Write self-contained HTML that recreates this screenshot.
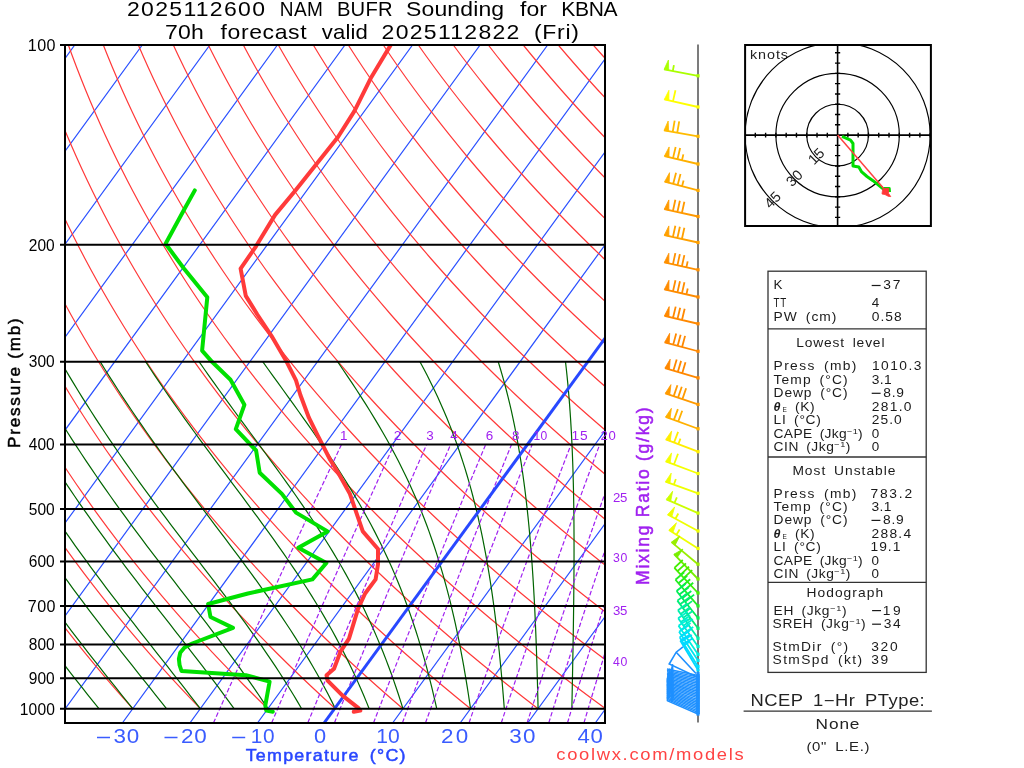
<!DOCTYPE html>
<html><head><meta charset="utf-8"><style>
html,body{margin:0;padding:0;background:#fff;overflow:hidden;}
svg{position:absolute;left:0;top:0;will-change:transform;}
text{font-family:"Liberation Sans",sans-serif;}
</style></head><body>
<svg width="1024" height="768" viewBox="0 0 1024 768">
<rect width="1024" height="768" fill="#fff"/>
<defs><clipPath id="cf"><rect x="65" y="45" width="540" height="678"/></clipPath><clipPath id="ch"><rect x="745" y="45" width="186" height="181"/></clipPath></defs>
<g clip-path="url(#cf)">
<path d="M-688.22,722.76 L-195.49,45 M-620.66,722.76 L-127.93,45 M-553.1,722.76 L-60.37,45 M-485.54,722.76 L7.19,45 M-417.98,722.76 L74.75,45 M-350.42,722.76 L142.31,45 M-282.86,722.76 L209.87,45 M-215.3,722.76 L277.43,45 M-147.74,722.76 L344.99,45 M-80.18,722.76 L412.55,45 M-12.62,722.76 L480.11,45 M54.94,722.76 L547.67,45 M122.5,722.76 L615.23,45 M190.06,722.76 L682.79,45 M257.62,722.76 L750.35,45 M392.74,722.76 L885.47,45 M460.3,722.76 L953.03,45 M527.86,722.76 L1020.59,45 M595.42,722.76 L1088.15,45 M662.98,722.76 L1155.71,45" stroke="#2a50ff" stroke-width="1.2" fill="none"/>
<path d="M-340.2,708.7 L-344.99,697.45 L-349.64,686.2 L-354.15,674.95 L-358.51,663.7 L-362.74,652.45 L-366.83,641.2 L-370.78,629.95 L-374.6,618.7 L-378.29,607.46 L-381.84,596.21 L-385.26,584.96 L-388.56,573.71 L-391.73,562.46 L-394.77,551.21 L-397.69,539.96 L-400.48,528.71 L-403.16,517.46 L-405.71,506.21 L-408.15,494.96 L-410.46,483.72 L-412.66,472.47 L-414.75,461.22 L-416.72,449.97 L-418.58,438.72 L-420.32,427.47 L-421.96,416.22 L-423.49,404.97 L-424.91,393.72 L-426.22,382.47 L-427.43,371.22 L-428.54,359.97 L-429.54,348.73 L-430.44,337.48 L-431.24,326.23 L-431.94,314.98 L-432.54,303.73 L-433.05,292.48 L-433.46,281.23 L-433.77,269.98 L-433.99,258.73 L-434.11,247.48 L-434.15,236.23 L-434.09,224.99 L-433.94,213.74 L-433.7,202.49 L-433.38,191.24 L-432.97,179.99 L-432.47,168.74 L-431.89,157.49 L-431.22,146.24 L-430.47,134.99 L-429.64,123.74 L-428.72,112.49 L-427.73,101.25 L-426.65,90 L-425.5,78.75 L-424.27,67.5 L-422.96,56.25 L-421.58,45 M-272.64,708.7 L-278.18,697.45 L-283.57,686.2 L-288.81,674.95 L-293.9,663.7 L-298.84,652.45 L-303.64,641.2 L-308.29,629.95 L-312.81,618.7 L-317.18,607.46 L-321.41,596.21 L-325.5,584.96 L-329.46,573.71 L-333.28,562.46 L-336.98,551.21 L-340.53,539.96 L-343.96,528.71 L-347.26,517.46 L-350.44,506.21 L-353.48,494.96 L-356.41,483.72 L-359.21,472.47 L-361.88,461.22 L-364.44,449.97 L-366.88,438.72 L-369.2,427.47 L-371.4,416.22 L-373.49,404.97 L-375.47,393.72 L-377.33,382.47 L-379.08,371.22 L-380.72,359.97 L-382.25,348.73 L-383.68,337.48 L-385,326.23 L-386.21,314.98 L-387.32,303.73 L-388.33,292.48 L-389.23,281.23 L-390.03,269.98 L-390.74,258.73 L-391.34,247.48 L-391.85,236.23 L-392.26,224.99 L-392.58,213.74 L-392.8,202.49 L-392.93,191.24 L-392.96,179.99 L-392.91,168.74 L-392.77,157.49 L-392.53,146.24 L-392.21,134.99 L-391.8,123.74 L-391.31,112.49 L-390.73,101.25 L-390.06,90 L-389.32,78.75 L-388.49,67.5 L-387.57,56.25 L-386.58,45 M-205.08,708.7 L-211.37,697.45 L-217.5,686.2 L-223.47,674.95 L-229.29,663.7 L-234.95,652.45 L-240.45,641.2 L-245.81,629.95 L-251.01,618.7 L-256.07,607.46 L-260.98,596.21 L-265.74,584.96 L-270.36,573.71 L-274.84,562.46 L-279.18,551.21 L-283.38,539.96 L-287.44,528.71 L-291.37,517.46 L-295.16,506.21 L-298.82,494.96 L-302.35,483.72 L-305.75,472.47 L-309.02,461.22 L-312.16,449.97 L-315.18,438.72 L-318.07,427.47 L-320.85,416.22 L-323.49,404.97 L-326.02,393.72 L-328.44,382.47 L-330.73,371.22 L-332.91,359.97 L-334.97,348.73 L-336.92,337.48 L-338.75,326.23 L-340.48,314.98 L-342.1,303.73 L-343.6,292.48 L-345,281.23 L-346.3,269.98 L-347.49,258.73 L-348.57,247.48 L-349.55,236.23 L-350.43,224.99 L-351.21,213.74 L-351.89,202.49 L-352.48,191.24 L-352.96,179.99 L-353.35,168.74 L-353.64,157.49 L-353.84,146.24 L-353.95,134.99 L-353.97,123.74 L-353.89,112.49 L-353.73,101.25 L-353.47,90 L-353.13,78.75 L-352.7,67.5 L-352.19,56.25 L-351.59,45 M-137.52,708.7 L-144.56,697.45 L-151.43,686.2 L-158.13,674.95 L-164.67,663.7 L-171.05,652.45 L-177.26,641.2 L-183.32,629.95 L-189.22,618.7 L-194.96,607.46 L-200.55,596.21 L-205.98,584.96 L-211.26,573.71 L-216.4,562.46 L-221.38,551.21 L-226.22,539.96 L-230.92,528.71 L-235.47,517.46 L-239.89,506.21 L-244.16,494.96 L-248.29,483.72 L-252.29,472.47 L-256.16,461.22 L-259.89,449.97 L-263.48,438.72 L-266.95,427.47 L-270.29,416.22 L-273.5,404.97 L-276.58,393.72 L-279.54,382.47 L-282.38,371.22 L-285.09,359.97 L-287.68,348.73 L-290.16,337.48 L-292.51,326.23 L-294.75,314.98 L-296.87,303.73 L-298.88,292.48 L-300.78,281.23 L-302.56,269.98 L-304.23,258.73 L-305.8,247.48 L-307.25,236.23 L-308.6,224.99 L-309.85,213.74 L-310.99,202.49 L-312.02,191.24 L-312.96,179.99 L-313.79,168.74 L-314.52,157.49 L-315.16,146.24 L-315.69,134.99 L-316.13,123.74 L-316.48,112.49 L-316.73,101.25 L-316.88,90 L-316.95,78.75 L-316.92,67.5 L-316.8,56.25 L-316.59,45 M-69.96,708.7 L-77.75,697.45 L-85.36,686.2 L-92.8,674.95 L-100.06,663.7 L-107.15,652.45 L-114.08,641.2 L-120.83,629.95 L-127.42,618.7 L-133.85,607.46 L-140.11,596.21 L-146.22,584.96 L-152.16,573.71 L-157.95,562.46 L-163.59,551.21 L-169.07,539.96 L-174.4,528.71 L-179.58,517.46 L-184.61,506.21 L-189.5,494.96 L-194.24,483.72 L-198.84,472.47 L-203.29,461.22 L-207.61,449.97 L-211.78,438.72 L-215.83,427.47 L-219.73,416.22 L-223.5,404.97 L-227.14,393.72 L-230.65,382.47 L-234.02,371.22 L-237.27,359.97 L-240.4,348.73 L-243.39,337.48 L-246.27,326.23 L-249.02,314.98 L-251.65,303.73 L-254.16,292.48 L-256.55,281.23 L-258.82,269.98 L-260.98,258.73 L-263.03,247.48 L-264.96,236.23 L-266.78,224.99 L-268.48,213.74 L-270.08,202.49 L-271.57,191.24 L-272.95,179.99 L-274.23,168.74 L-275.4,157.49 L-276.47,146.24 L-277.44,134.99 L-278.3,123.74 L-279.06,112.49 L-279.73,101.25 L-280.29,90 L-280.76,78.75 L-281.14,67.5 L-281.42,56.25 L-281.6,45 M-2.4,708.7 L-10.94,697.45 L-19.29,686.2 L-27.46,674.95 L-35.45,663.7 L-43.26,652.45 L-50.89,641.2 L-58.34,629.95 L-65.63,618.7 L-72.74,607.46 L-79.68,596.21 L-86.46,584.96 L-93.06,573.71 L-99.51,562.46 L-105.79,551.21 L-111.91,539.96 L-117.88,528.71 L-123.69,517.46 L-129.34,506.21 L-134.84,494.96 L-140.18,483.72 L-145.38,472.47 L-150.43,461.22 L-155.33,449.97 L-160.09,438.72 L-164.7,427.47 L-169.17,416.22 L-173.5,404.97 L-177.7,393.72 L-181.75,382.47 L-185.67,371.22 L-189.46,359.97 L-193.11,348.73 L-196.63,337.48 L-200.02,326.23 L-203.29,314.98 L-206.43,303.73 L-209.44,292.48 L-212.32,281.23 L-215.09,269.98 L-217.73,258.73 L-220.26,247.48 L-222.66,236.23 L-224.95,224.99 L-227.12,213.74 L-229.18,202.49 L-231.12,191.24 L-232.95,179.99 L-234.67,168.74 L-236.28,157.49 L-237.78,146.24 L-239.18,134.99 L-240.46,123.74 L-241.65,112.49 L-242.73,101.25 L-243.7,90 L-244.58,78.75 L-245.35,67.5 L-246.03,56.25 L-246.61,45 M65.16,708.7 L55.87,697.45 L46.78,686.2 L37.88,674.95 L29.17,663.7 L20.64,652.45 L12.3,641.2 L4.14,629.95 L-3.83,618.7 L-11.63,607.46 L-19.25,596.21 L-26.69,584.96 L-33.97,573.71 L-41.07,562.46 L-48,551.21 L-54.76,539.96 L-61.36,528.71 L-67.79,517.46 L-74.06,506.21 L-80.17,494.96 L-86.13,483.72 L-91.92,472.47 L-97.56,461.22 L-103.05,449.97 L-108.39,438.72 L-113.58,427.47 L-118.61,416.22 L-123.51,404.97 L-128.25,393.72 L-132.86,382.47 L-137.32,371.22 L-141.64,359.97 L-145.82,348.73 L-149.87,337.48 L-153.78,326.23 L-157.56,314.98 L-161.2,303.73 L-164.71,292.48 L-168.1,281.23 L-171.35,269.98 L-174.48,258.73 L-177.48,247.48 L-180.36,236.23 L-183.12,224.99 L-185.76,213.74 L-188.27,202.49 L-190.67,191.24 L-192.95,179.99 L-195.11,168.74 L-197.16,157.49 L-199.09,146.24 L-200.92,134.99 L-202.63,123.74 L-204.23,112.49 L-205.73,101.25 L-207.11,90 L-208.4,78.75 L-209.57,67.5 L-210.64,56.25 L-211.61,45 M132.72,708.7 L122.69,697.45 L112.85,686.2 L103.22,674.95 L93.78,663.7 L84.54,652.45 L75.49,641.2 L66.63,629.95 L57.96,618.7 L49.48,607.46 L41.18,596.21 L33.07,584.96 L25.13,573.71 L17.38,562.46 L9.8,551.21 L2.4,539.96 L-4.84,528.71 L-11.9,517.46 L-18.79,506.21 L-25.51,494.96 L-32.07,483.72 L-38.47,472.47 L-44.7,461.22 L-50.77,449.97 L-56.69,438.72 L-62.45,427.47 L-68.06,416.22 L-73.51,404.97 L-78.81,393.72 L-83.96,382.47 L-88.97,371.22 L-93.82,359.97 L-98.54,348.73 L-103.11,337.48 L-107.54,326.23 L-111.83,314.98 L-115.98,303.73 L-119.99,292.48 L-123.87,281.23 L-127.62,269.98 L-131.23,258.73 L-134.71,247.48 L-138.07,236.23 L-141.29,224.99 L-144.39,213.74 L-147.36,202.49 L-150.22,191.24 L-152.94,179.99 L-155.55,168.74 L-158.04,157.49 L-160.41,146.24 L-162.66,134.99 L-164.8,123.74 L-166.82,112.49 L-168.73,101.25 L-170.52,90 L-172.21,78.75 L-173.79,67.5 L-175.26,56.25 L-176.62,45 M200.28,708.7 L189.5,697.45 L178.92,686.2 L168.55,674.95 L158.39,663.7 L148.43,652.45 L138.68,641.2 L129.12,629.95 L119.76,618.7 L110.59,607.46 L101.61,596.21 L92.83,584.96 L84.23,573.71 L75.82,562.46 L67.6,551.21 L59.55,539.96 L51.69,528.71 L44,517.46 L36.49,506.21 L29.15,494.96 L21.98,483.72 L14.99,472.47 L8.16,461.22 L1.5,449.97 L-4.99,438.72 L-11.33,427.47 L-17.5,416.22 L-23.51,404.97 L-29.37,393.72 L-35.07,382.47 L-40.61,371.22 L-46.01,359.97 L-51.25,348.73 L-56.35,337.48 L-61.29,326.23 L-66.1,314.98 L-70.75,303.73 L-75.27,292.48 L-79.65,281.23 L-83.88,269.98 L-87.98,258.73 L-91.94,247.48 L-95.77,236.23 L-99.46,224.99 L-103.03,213.74 L-106.46,202.49 L-109.76,191.24 L-112.94,179.99 L-115.99,168.74 L-118.92,157.49 L-121.72,146.24 L-124.4,134.99 L-126.96,123.74 L-129.4,112.49 L-131.73,101.25 L-133.94,90 L-136.03,78.75 L-138.01,67.5 L-139.87,56.25 L-141.63,45 M267.84,708.7 L256.31,697.45 L244.99,686.2 L233.89,674.95 L223.01,663.7 L212.33,652.45 L201.86,641.2 L191.61,629.95 L181.55,618.7 L171.7,607.46 L162.05,596.21 L152.59,584.96 L143.33,573.71 L134.27,562.46 L125.39,551.21 L116.71,539.96 L108.21,528.71 L99.89,517.46 L91.76,506.21 L83.81,494.96 L76.04,483.72 L68.45,472.47 L61.03,461.22 L53.78,449.97 L46.7,438.72 L39.8,427.47 L33.06,416.22 L26.49,404.97 L20.08,393.72 L13.83,382.47 L7.74,371.22 L1.81,359.97 L-3.97,348.73 L-9.58,337.48 L-15.05,326.23 L-20.37,314.98 L-25.53,303.73 L-30.55,292.48 L-35.42,281.23 L-40.15,269.98 L-44.73,258.73 L-49.17,247.48 L-53.47,236.23 L-57.64,224.99 L-61.66,213.74 L-65.55,202.49 L-69.31,191.24 L-72.94,179.99 L-76.43,168.74 L-79.8,157.49 L-83.03,146.24 L-86.14,134.99 L-89.13,123.74 L-91.99,112.49 L-94.73,101.25 L-97.35,90 L-99.84,78.75 L-102.22,67.5 L-104.49,56.25 L-106.63,45 M335.4,708.7 L323.12,697.45 L311.06,686.2 L299.23,674.95 L287.62,663.7 L276.23,652.45 L265.05,641.2 L254.09,629.95 L243.35,618.7 L232.81,607.46 L222.48,596.21 L212.35,584.96 L202.43,573.71 L192.71,562.46 L183.19,551.21 L173.86,539.96 L164.73,528.71 L155.79,517.46 L147.04,506.21 L138.47,494.96 L130.1,483.72 L121.9,472.47 L113.89,461.22 L106.06,449.97 L98.4,438.72 L90.92,427.47 L83.62,416.22 L76.48,404.97 L69.52,393.72 L62.72,382.47 L56.09,371.22 L49.62,359.97 L43.32,348.73 L37.18,337.48 L31.19,326.23 L25.36,314.98 L19.69,303.73 L14.17,292.48 L8.81,281.23 L3.59,269.98 L-1.48,258.73 L-6.4,247.48 L-11.18,236.23 L-15.81,224.99 L-20.3,213.74 L-24.65,202.49 L-28.86,191.24 L-32.93,179.99 L-36.87,168.74 L-40.67,157.49 L-44.34,146.24 L-47.88,134.99 L-51.29,123.74 L-54.57,112.49 L-57.73,101.25 L-60.76,90 L-63.66,78.75 L-66.44,67.5 L-69.1,56.25 L-71.64,45 M402.96,708.7 L389.93,697.45 L377.13,686.2 L364.57,674.95 L352.23,663.7 L340.12,652.45 L328.24,641.2 L316.58,629.95 L305.14,618.7 L293.92,607.46 L282.91,596.21 L272.11,584.96 L261.53,573.71 L251.15,562.46 L240.98,551.21 L231.02,539.96 L221.25,528.71 L211.68,517.46 L202.31,506.21 L193.14,494.96 L184.15,483.72 L175.36,472.47 L166.75,461.22 L158.34,449.97 L150.1,438.72 L142.05,427.47 L134.17,416.22 L126.48,404.97 L118.96,393.72 L111.62,382.47 L104.44,371.22 L97.44,359.97 L90.61,348.73 L83.94,337.48 L77.44,326.23 L71.1,314.98 L64.92,303.73 L58.9,292.48 L53.03,281.23 L47.33,269.98 L41.77,258.73 L36.37,247.48 L31.12,236.23 L26.02,224.99 L21.07,213.74 L16.26,202.49 L11.59,191.24 L7.07,179.99 L2.69,168.74 L-1.55,157.49 L-5.66,146.24 L-9.63,134.99 L-13.46,123.74 L-17.16,112.49 L-20.73,101.25 L-24.17,90 L-27.48,78.75 L-30.66,67.5 L-33.71,56.25 L-36.65,45 M470.52,708.7 L456.74,697.45 L443.2,686.2 L429.9,674.95 L416.84,663.7 L404.02,652.45 L391.43,641.2 L379.07,629.95 L366.93,618.7 L355.03,607.46 L343.34,596.21 L331.88,584.96 L320.63,573.71 L309.6,562.46 L298.78,551.21 L288.17,539.96 L277.77,528.71 L267.58,517.46 L257.59,506.21 L247.8,494.96 L238.21,483.72 L228.82,472.47 L219.62,461.22 L210.61,449.97 L201.8,438.72 L193.17,427.47 L184.73,416.22 L176.48,404.97 L168.4,393.72 L160.51,382.47 L152.8,371.22 L145.26,359.97 L137.89,348.73 L130.7,337.48 L123.68,326.23 L116.83,314.98 L110.14,303.73 L103.62,292.48 L97.26,281.23 L91.06,269.98 L85.02,258.73 L79.14,247.48 L73.42,236.23 L67.85,224.99 L62.43,213.74 L57.16,202.49 L52.04,191.24 L47.07,179.99 L42.25,168.74 L37.57,157.49 L33.03,146.24 L28.63,134.99 L24.38,123.74 L20.26,112.49 L16.27,101.25 L12.42,90 L8.71,78.75 L5.13,67.5 L1.67,56.25 L-1.65,45 M538.08,708.7 L523.55,697.45 L509.27,686.2 L495.24,674.95 L481.46,663.7 L467.92,652.45 L454.62,641.2 L441.56,629.95 L428.73,618.7 L416.14,607.46 L403.77,596.21 L391.64,584.96 L379.73,573.71 L368.04,562.46 L356.57,551.21 L345.33,539.96 L334.29,528.71 L323.47,517.46 L312.86,506.21 L302.46,494.96 L292.26,483.72 L282.27,472.47 L272.48,461.22 L262.89,449.97 L253.5,438.72 L244.3,427.47 L235.29,416.22 L226.47,404.97 L217.85,393.72 L209.41,382.47 L201.15,371.22 L193.07,359.97 L185.18,348.73 L177.46,337.48 L169.92,326.23 L162.56,314.98 L155.36,303.73 L148.34,292.48 L141.49,281.23 L134.8,269.98 L128.27,258.73 L121.91,247.48 L115.72,236.23 L109.68,224.99 L103.79,213.74 L98.07,202.49 L92.5,191.24 L87.08,179.99 L81.81,168.74 L76.69,157.49 L71.72,146.24 L66.89,134.99 L62.21,123.74 L57.67,112.49 L53.27,101.25 L49.01,90 L44.89,78.75 L40.91,67.5 L37.06,56.25 L33.34,45 M605.64,708.7 L590.36,697.45 L575.34,686.2 L560.58,674.95 L546.07,663.7 L531.81,652.45 L517.81,641.2 L504.04,629.95 L490.52,618.7 L477.25,607.46 L464.21,596.21 L451.4,584.96 L438.83,573.71 L426.49,562.46 L414.37,551.21 L402.48,539.96 L390.81,528.71 L379.37,517.46 L368.14,506.21 L357.12,494.96 L346.32,483.72 L335.73,472.47 L325.35,461.22 L315.17,449.97 L305.19,438.72 L295.42,427.47 L285.85,416.22 L276.47,404.97 L267.29,393.72 L258.3,382.47 L249.5,371.22 L240.89,359.97 L232.46,348.73 L224.22,337.48 L216.17,326.23 L208.29,314.98 L200.59,303.73 L193.06,292.48 L185.71,281.23 L178.53,269.98 L171.53,258.73 L164.69,247.48 L158.01,236.23 L151.5,224.99 L145.16,213.74 L138.97,202.49 L132.95,191.24 L127.08,179.99 L121.37,168.74 L115.81,157.49 L110.41,146.24 L105.15,134.99 L100.04,123.74 L95.09,112.49 L90.27,101.25 L85.6,90 L81.08,78.75 L76.69,67.5 L72.44,56.25 L68.34,45 M673.2,708.7 L657.17,697.45 L641.41,686.2 L625.92,674.95 L610.68,663.7 L595.71,652.45 L580.99,641.2 L566.53,629.95 L552.32,618.7 L538.36,607.46 L524.64,596.21 L511.16,584.96 L497.93,573.71 L484.93,562.46 L472.17,551.21 L459.64,539.96 L447.33,528.71 L435.26,517.46 L423.41,506.21 L411.78,494.96 L400.38,483.72 L389.18,472.47 L378.21,461.22 L367.45,449.97 L356.89,438.72 L346.55,427.47 L336.41,416.22 L326.47,404.97 L316.73,393.72 L307.19,382.47 L297.85,371.22 L288.71,359.97 L279.75,348.73 L270.99,337.48 L262.41,326.23 L254.02,314.98 L245.81,303.73 L237.78,292.48 L229.94,281.23 L222.27,269.98 L214.78,258.73 L207.46,247.48 L200.31,236.23 L193.33,224.99 L186.52,213.74 L179.88,202.49 L173.4,191.24 L167.08,179.99 L160.93,168.74 L154.93,157.49 L149.09,146.24 L143.41,134.99 L137.88,123.74 L132.5,112.49 L127.27,101.25 L122.19,90 L117.26,78.75 L112.47,67.5 L107.83,56.25 L103.33,45 M740.76,708.7 L723.98,697.45 L707.48,686.2 L691.25,674.95 L675.3,663.7 L659.61,652.45 L644.18,641.2 L629.02,629.95 L614.11,618.7 L599.46,607.46 L585.07,596.21 L570.92,584.96 L557.03,573.71 L543.37,562.46 L529.96,551.21 L516.79,539.96 L503.86,528.71 L491.15,517.46 L478.69,506.21 L466.45,494.96 L454.43,483.72 L442.64,472.47 L431.07,461.22 L419.72,449.97 L408.59,438.72 L397.67,427.47 L386.96,416.22 L376.47,404.97 L366.17,393.72 L356.09,382.47 L346.21,371.22 L336.52,359.97 L327.04,348.73 L317.75,337.48 L308.65,326.23 L299.75,314.98 L291.03,303.73 L282.51,292.48 L274.16,281.23 L266,269.98 L258.03,258.73 L250.23,247.48 L242.61,236.23 L235.16,224.99 L227.89,213.74 L220.79,202.49 L213.85,191.24 L207.09,179.99 L200.49,168.74 L194.05,157.49 L187.78,146.24 L181.67,134.99 L175.71,123.74 L169.92,112.49 L164.27,101.25 L158.78,90 L153.44,78.75 L148.26,67.5 L143.22,56.25 L138.32,45 M808.32,708.7 L790.79,697.45 L773.55,686.2 L756.59,674.95 L739.91,663.7 L723.5,652.45 L707.37,641.2 L691.51,629.95 L675.91,618.7 L660.57,607.46 L645.5,596.21 L630.69,584.96 L616.12,573.71 L601.82,562.46 L587.76,551.21 L573.95,539.96 L560.38,528.71 L547.05,517.46 L533.96,506.21 L521.11,494.96 L508.49,483.72 L496.1,472.47 L483.94,461.22 L472,449.97 L460.29,438.72 L448.8,427.47 L437.52,416.22 L426.46,404.97 L415.62,393.72 L404.98,382.47 L394.56,371.22 L384.34,359.97 L374.32,348.73 L364.51,337.48 L354.9,326.23 L345.48,314.98 L336.26,303.73 L327.23,292.48 L318.39,281.23 L309.74,269.98 L301.28,258.73 L293,247.48 L284.9,236.23 L276.99,224.99 L269.25,213.74 L261.69,202.49 L254.31,191.24 L247.09,179.99 L240.05,168.74 L233.18,157.49 L226.47,146.24 L219.93,134.99 L213.55,123.74 L207.33,112.49 L201.27,101.25 L195.37,90 L189.63,78.75 L184.04,67.5 L178.6,56.25 L173.32,45 M875.88,708.7 L857.61,697.45 L839.62,686.2 L821.93,674.95 L804.52,663.7 L787.4,652.45 L770.56,641.2 L753.99,629.95 L737.7,618.7 L721.68,607.46 L705.93,596.21 L690.45,584.96 L675.22,573.71 L660.26,562.46 L645.55,551.21 L631.1,539.96 L616.9,528.71 L602.94,517.46 L589.23,506.21 L575.77,494.96 L562.54,483.72 L549.55,472.47 L536.8,461.22 L524.28,449.97 L511.99,438.72 L499.92,427.47 L488.08,416.22 L476.46,404.97 L465.06,393.72 L453.88,382.47 L442.91,371.22 L432.15,359.97 L421.61,348.73 L411.27,337.48 L401.14,326.23 L391.21,314.98 L381.48,303.73 L371.95,292.48 L362.62,281.23 L353.48,269.98 L344.53,258.73 L335.77,247.48 L327.2,236.23 L318.82,224.99 L310.62,213.74 L302.6,202.49 L294.76,191.24 L287.1,179.99 L279.61,168.74 L272.3,157.49 L265.16,146.24 L258.18,134.99 L251.38,123.74 L244.74,112.49 L238.27,101.25 L231.96,90 L225.81,78.75 L219.82,67.5 L213.99,56.25 L208.31,45 M943.44,708.7 L924.42,697.45 L905.69,686.2 L887.27,674.95 L869.14,663.7 L851.3,652.45 L833.75,641.2 L816.48,629.95 L799.5,618.7 L782.79,607.46 L766.36,596.21 L750.21,584.96 L734.32,573.71 L718.7,562.46 L703.35,551.21 L688.26,539.96 L673.42,528.71 L658.84,517.46 L644.51,506.21 L630.43,494.96 L616.6,483.72 L603.01,472.47 L589.66,461.22 L576.56,449.97 L563.68,438.72 L551.04,427.47 L538.64,416.22 L526.46,404.97 L514.5,393.72 L502.77,382.47 L491.26,371.22 L479.97,359.97 L468.9,348.73 L458.03,337.48 L447.38,326.23 L436.94,314.98 L426.7,303.73 L416.67,292.48 L406.84,281.23 L397.21,269.98 L387.78,258.73 L378.54,247.48 L369.5,236.23 L360.64,224.99 L351.98,213.74 L343.5,202.49 L335.21,191.24 L327.1,179.99 L319.17,168.74 L311.42,157.49 L303.84,146.24 L296.44,134.99 L289.22,123.74 L282.16,112.49 L275.27,101.25 L268.55,90 L262,78.75 L255.6,67.5 L249.37,56.25 L243.3,45 M1011,708.7 L991.23,697.45 L971.76,686.2 L952.6,674.95 L933.75,663.7 L915.19,652.45 L896.93,641.2 L878.97,629.95 L861.29,618.7 L843.9,607.46 L826.8,596.21 L809.97,584.96 L793.42,573.71 L777.15,562.46 L761.15,551.21 L745.41,539.96 L729.94,528.71 L714.73,517.46 L699.78,506.21 L685.09,494.96 L670.65,483.72 L656.47,472.47 L642.53,461.22 L628.83,449.97 L615.38,438.72 L602.17,427.47 L589.19,416.22 L576.45,404.97 L563.95,393.72 L551.67,382.47 L539.62,371.22 L527.79,359.97 L516.18,348.73 L504.79,337.48 L493.63,326.23 L482.67,314.98 L471.93,303.73 L461.39,292.48 L451.07,281.23 L440.95,269.98 L431.03,258.73 L421.31,247.48 L411.79,236.23 L402.47,224.99 L393.34,213.74 L384.41,202.49 L375.66,191.24 L367.1,179.99 L358.73,168.74 L350.54,157.49 L342.53,146.24 L334.7,134.99 L327.05,123.74 L319.57,112.49 L312.27,101.25 L305.14,90 L298.18,78.75 L291.39,67.5 L284.76,56.25 L278.3,45 M1078.56,708.7 L1058.04,697.45 L1037.83,686.2 L1017.94,674.95 L998.36,663.7 L979.09,652.45 L960.12,641.2 L941.46,629.95 L923.09,618.7 L905.01,607.46 L887.23,596.21 L869.73,584.96 L852.52,573.71 L835.59,562.46 L818.94,551.21 L802.57,539.96 L786.46,528.71 L770.63,517.46 L755.06,506.21 L739.75,494.96 L724.71,483.72 L709.92,472.47 L695.39,461.22 L681.11,449.97 L667.08,438.72 L653.29,427.47 L639.75,416.22 L626.45,404.97 L613.39,393.72 L600.56,382.47 L587.97,371.22 L575.6,359.97 L563.47,348.73 L551.56,337.48 L539.87,326.23 L528.4,314.98 L517.15,303.73 L506.12,292.48 L495.29,281.23 L484.68,269.98 L474.28,258.73 L464.08,247.48 L454.09,236.23 L444.3,224.99 L434.71,213.74 L425.31,202.49 L416.11,191.24 L407.11,179.99 L398.29,168.74 L389.66,157.49 L381.22,146.24 L372.96,134.99 L364.88,123.74 L356.99,112.49 L349.27,101.25 L341.73,90 L334.36,78.75 L327.17,67.5 L320.15,56.25 L313.29,45 M1146.12,708.7 L1124.85,697.45 L1103.9,686.2 L1083.28,674.95 L1062.97,663.7 L1042.99,652.45 L1023.31,641.2 L1003.94,629.95 L984.88,618.7 L966.12,607.46 L947.66,596.21 L929.49,584.96 L911.62,573.71 L894.04,562.46 L876.74,551.21 L859.72,539.96 L842.98,528.71 L826.52,517.46 L810.33,506.21 L794.42,494.96 L778.77,483.72 L763.38,472.47 L748.25,461.22 L733.39,449.97 L718.78,438.72 L704.42,427.47 L690.31,416.22 L676.45,404.97 L662.83,393.72 L649.46,382.47 L636.32,371.22 L623.42,359.97 L610.75,348.73 L598.32,337.48 L586.11,326.23 L574.13,314.98 L562.37,303.73 L550.84,292.48 L539.52,281.23 L528.42,269.98 L517.53,258.73 L506.86,247.48 L496.39,236.23 L486.13,224.99 L476.07,213.74 L466.22,202.49 L456.57,191.24 L447.11,179.99 L437.85,168.74 L428.78,157.49 L419.91,146.24 L411.22,134.99 L402.72,123.74 L394.4,112.49 L386.27,101.25 L378.32,90 L370.55,78.75 L362.95,67.5 L355.53,56.25 L348.29,45 M1213.68,708.7 L1191.66,697.45 L1169.97,686.2 L1148.62,674.95 L1127.59,663.7 L1106.88,652.45 L1086.5,641.2 L1066.43,629.95 L1046.68,618.7 L1027.23,607.46 L1008.09,596.21 L989.26,584.96 L970.72,573.71 L952.48,562.46 L934.53,551.21 L916.88,539.96 L899.5,528.71 L882.42,517.46 L865.61,506.21 L849.08,494.96 L832.82,483.72 L816.84,472.47 L801.12,461.22 L785.67,449.97 L770.47,438.72 L755.54,427.47 L740.87,416.22 L726.45,404.97 L712.27,393.72 L698.35,382.47 L684.67,371.22 L671.24,359.97 L658.04,348.73 L645.08,337.48 L632.36,326.23 L619.86,314.98 L607.6,303.73 L595.56,292.48 L583.75,281.23 L572.16,269.98 L560.78,258.73 L549.63,247.48 L538.69,236.23 L527.96,224.99 L517.44,213.74 L507.12,202.49 L497.02,191.24 L487.11,179.99 L477.41,168.74 L467.9,157.49 L458.59,146.24 L449.48,134.99 L440.55,123.74 L431.82,112.49 L423.27,101.25 L414.91,90 L406.73,78.75 L398.74,67.5 L390.92,56.25 L383.28,45 M1281.24,708.7 L1258.47,697.45 L1236.04,686.2 L1213.95,674.95 L1192.2,663.7 L1170.78,652.45 L1149.69,641.2 L1128.92,629.95 L1108.47,618.7 L1088.34,607.46 L1068.52,596.21 L1049.02,584.96 L1029.82,573.71 L1010.92,562.46 L992.33,551.21 L974.03,539.96 L956.03,528.71 L938.31,517.46 L920.88,506.21 L903.74,494.96 L886.88,483.72 L870.29,472.47 L853.98,461.22 L837.94,449.97 L822.17,438.72 L806.67,427.47 L791.43,416.22 L776.44,404.97 L761.72,393.72 L747.25,382.47 L733.02,371.22 L719.05,359.97 L705.33,348.73 L691.84,337.48 L678.6,326.23 L665.59,314.98 L652.82,303.73 L640.28,292.48 L627.97,281.23 L615.89,269.98 L604.03,258.73 L592.4,247.48 L580.98,236.23 L569.78,224.99 L558.8,213.74 L548.03,202.49 L537.47,191.24 L527.12,179.99 L516.97,168.74 L507.02,157.49 L497.28,146.24 L487.74,134.99 L478.39,123.74 L469.23,112.49 L460.27,101.25 L451.5,90 L442.92,78.75 L434.52,67.5 L426.3,56.25 L418.27,45 M1348.8,708.7 L1325.28,697.45 L1302.11,686.2 L1279.29,674.95 L1256.81,663.7 L1234.68,652.45 L1212.87,641.2 L1191.41,629.95 L1170.26,618.7 L1149.45,607.46 L1128.96,596.21 L1108.78,584.96 L1088.92,573.71 L1069.37,562.46 L1050.12,551.21 L1031.18,539.96 L1012.55,528.71 L994.21,517.46 L976.16,506.21 L958.4,494.96 L940.93,483.72 L923.75,472.47 L906.85,461.22 L890.22,449.97 L873.87,438.72 L857.79,427.47 L841.98,416.22 L826.44,404.97 L811.16,393.72 L796.14,382.47 L781.38,371.22 L766.87,359.97 L752.61,348.73 L738.6,337.48 L724.84,326.23 L711.32,314.98 L698.04,303.73 L685,292.48 L672.2,281.23 L659.63,269.98 L647.28,258.73 L635.17,247.48 L623.28,236.23 L611.61,224.99 L600.17,213.74 L588.94,202.49 L577.92,191.24 L567.12,179.99 L556.53,168.74 L546.15,157.49 L535.97,146.24 L525.99,134.99 L516.22,123.74 L506.65,112.49 L497.27,101.25 L488.09,90 L479.1,78.75 L470.3,67.5 L461.69,56.25 L453.27,45 M1416.36,708.7 L1392.09,697.45 L1368.18,686.2 L1344.63,674.95 L1321.43,663.7 L1298.57,652.45 L1276.06,641.2 L1253.89,629.95 L1232.06,618.7 L1210.56,607.46 L1189.39,596.21 L1168.54,584.96 L1148.02,573.71 L1127.81,562.46 L1107.92,551.21 L1088.34,539.96 L1069.07,528.71 L1050.1,517.46 L1031.43,506.21 L1013.06,494.96 L994.99,483.72 L977.21,472.47 L959.71,461.22 L942.5,449.97 L925.57,438.72 L908.92,427.47 L892.54,416.22 L876.44,404.97 L860.6,393.72 L845.03,382.47 L829.73,371.22 L814.69,359.97 L799.9,348.73 L785.37,337.48 L771.09,326.23 L757.05,314.98 L743.27,303.73 L729.73,292.48 L716.43,281.23 L703.36,269.98 L690.54,258.73 L677.94,247.48 L665.58,236.23 L653.44,224.99 L641.53,213.74 L629.84,202.49 L618.37,191.24 L607.12,179.99 L596.09,168.74 L585.27,157.49 L574.66,146.24 L564.25,134.99 L554.06,123.74 L544.06,112.49 L534.27,101.25 L524.68,90 L515.28,78.75 L506.08,67.5 L497.08,56.25 L488.26,45 M1483.92,708.7 L1458.9,697.45 L1434.25,686.2 L1409.97,674.95 L1386.04,663.7 L1362.47,652.45 L1339.25,641.2 L1316.38,629.95 L1293.85,618.7 L1271.67,607.46 L1249.82,596.21 L1228.3,584.96 L1207.12,573.71 L1186.26,562.46 L1165.72,551.21 L1145.49,539.96 L1125.59,528.71 L1105.99,517.46 L1086.71,506.21 L1067.73,494.96 L1049.04,483.72 L1030.66,472.47 L1012.57,461.22 L994.78,449.97 L977.27,438.72 L960.04,427.47 L943.1,416.22 L926.43,404.97 L910.05,393.72 L893.93,382.47 L878.08,371.22 L862.5,359.97 L847.18,348.73 L832.13,337.48 L817.33,326.23 L802.78,314.98 L788.49,303.73 L774.45,292.48 L760.65,281.23 L747.1,269.98 L733.79,258.73 L720.71,247.48 L707.87,236.23 L695.27,224.99 L682.89,213.74 L670.75,202.49 L658.83,191.24 L647.13,179.99 L635.65,168.74 L624.39,157.49 L613.34,146.24 L602.51,134.99 L591.89,123.74 L581.48,112.49 L571.27,101.25 L561.27,90 L551.47,78.75 L541.87,67.5 L532.46,56.25 L523.25,45 M1551.48,708.7 L1525.71,697.45 L1500.32,686.2 L1475.3,674.95 L1450.65,663.7 L1426.37,652.45 L1402.44,641.2 L1378.87,629.95 L1355.65,618.7 L1332.78,607.46 L1310.25,596.21 L1288.06,584.96 L1266.22,573.71 L1244.7,562.46 L1223.51,551.21 L1202.65,539.96 L1182.11,528.71 L1161.89,517.46 L1141.98,506.21 L1122.39,494.96 L1103.1,483.72 L1084.12,472.47 L1065.44,461.22 L1047.05,449.97 L1028.96,438.72 L1011.17,427.47 L993.66,416.22 L976.43,404.97 L959.49,393.72 L942.82,382.47 L926.43,371.22 L910.32,359.97 L894.47,348.73 L878.89,337.48 L863.57,326.23 L848.51,314.98 L833.72,303.73 L819.17,292.48 L804.88,281.23 L790.83,269.98 L777.04,258.73 L763.48,247.48 L750.17,236.23 L737.1,224.99 L724.26,213.74 L711.65,202.49 L699.28,191.24 L687.13,179.99 L675.21,168.74 L663.51,157.49 L652.03,146.24 L640.77,134.99 L629.73,123.74 L618.89,112.49 L608.27,101.25 L597.86,90 L587.65,78.75 L577.65,67.5 L567.85,56.25 L558.25,45 M1619.04,708.7 L1592.53,697.45 L1566.39,686.2 L1540.64,674.95 L1515.27,663.7 L1490.26,652.45 L1465.63,641.2 L1441.36,629.95 L1417.44,618.7 L1393.89,607.46 L1370.68,596.21 L1347.83,584.96 L1325.31,573.71 L1303.14,562.46 L1281.31,551.21 L1259.8,539.96 L1238.63,528.71 L1217.78,517.46 L1197.26,506.21 L1177.05,494.96 L1157.16,483.72 L1137.57,472.47 L1118.3,461.22 L1099.33,449.97 L1080.66,438.72 L1062.29,427.47 L1044.21,416.22 L1026.43,404.97 L1008.93,393.72 L991.72,382.47 L974.79,371.22 L958.13,359.97 L941.76,348.73 L925.65,337.48 L909.82,326.23 L894.25,314.98 L878.94,303.73 L863.89,292.48 L849.1,281.23 L834.57,269.98 L820.29,258.73 L806.26,247.48 L792.47,236.23 L778.93,224.99 L765.62,213.74 L752.56,202.49 L739.73,191.24 L727.13,179.99 L714.77,168.74 L702.63,157.49 L690.72,146.24 L679.03,134.99 L667.56,123.74 L656.31,112.49 L645.27,101.25 L634.45,90 L623.84,78.75 L613.43,67.5 L603.24,56.25 L593.24,45 M1686.6,708.7 L1659.34,697.45 L1632.46,686.2 L1605.98,674.95 L1579.88,663.7 L1554.16,652.45 L1528.81,641.2 L1503.84,629.95 L1479.24,618.7 L1455,607.46 L1431.11,596.21 L1407.59,584.96 L1384.41,573.71 L1361.59,562.46 L1339.1,551.21 L1316.96,539.96 L1295.15,528.71 L1273.68,517.46 L1252.53,506.21 L1231.71,494.96 L1211.21,483.72 L1191.03,472.47 L1171.16,461.22 L1151.61,449.97 L1132.36,438.72 L1113.42,427.47 L1094.77,416.22 L1076.43,404.97 L1058.37,393.72 L1040.61,382.47 L1023.14,371.22 L1005.95,359.97 L989.04,348.73 L972.41,337.48 L956.06,326.23 L939.98,314.98 L924.16,303.73 L908.61,292.48 L893.33,281.23 L878.31,269.98 L863.54,258.73 L849.03,247.48 L834.77,236.23 L820.75,224.99 L806.99,213.74 L793.46,202.49 L780.18,191.24 L767.14,179.99 L754.33,168.74 L741.75,157.49 L729.41,146.24 L717.29,134.99 L705.39,123.74 L693.72,112.49 L682.27,101.25 L671.04,90 L660.02,78.75 L649.22,67.5 L638.62,56.25 L628.23,45 M1754.16,708.7 L1726.15,697.45 L1698.53,686.2 L1671.32,674.95 L1644.49,663.7 L1618.06,652.45 L1592,641.2 L1566.33,629.95 L1541.03,618.7 L1516.11,607.46 L1491.55,596.21 L1467.35,584.96 L1443.51,573.71 L1420.03,562.46 L1396.9,551.21 L1374.11,539.96 L1351.67,528.71 L1329.57,517.46 L1307.81,506.21 L1286.37,494.96 L1265.27,483.72 L1244.49,472.47 L1224.03,461.22 L1203.89,449.97 L1184.06,438.72 L1164.54,427.47 L1145.33,416.22 L1126.42,404.97 L1107.82,393.72 L1089.51,382.47 L1071.49,371.22 L1053.77,359.97 L1036.33,348.73 L1019.17,337.48 L1002.3,326.23 L985.71,314.98 L969.39,303.73 L953.34,292.48 L937.56,281.23 L922.04,269.98 L906.79,258.73 L891.8,247.48 L877.06,236.23 L862.58,224.99 L848.35,213.74 L834.37,202.49 L820.63,191.24 L807.14,179.99 L793.89,168.74 L780.87,157.49 L768.09,146.24 L755.55,134.99 L743.23,123.74 L731.14,112.49 L719.27,101.25 L707.63,90 L696.2,78.75 L685,67.5 L674.01,56.25 L663.23,45 M1821.72,708.7 L1792.96,697.45 L1764.6,686.2 L1736.65,674.95 L1709.1,663.7 L1681.95,652.45 L1655.19,641.2 L1628.82,629.95 L1602.83,618.7 L1577.22,607.46 L1551.98,596.21 L1527.11,584.96 L1502.61,573.71 L1478.47,562.46 L1454.69,551.21 L1431.27,539.96 L1408.2,528.71 L1385.47,517.46 L1363.08,506.21 L1341.04,494.96 L1319.32,483.72 L1297.94,472.47 L1276.89,461.22 L1256.16,449.97 L1235.76,438.72 L1215.67,427.47 L1195.89,416.22 L1176.42,404.97 L1157.26,393.72 L1138.4,382.47 L1119.84,371.22 L1101.58,359.97 L1083.62,348.73 L1065.94,337.48 L1048.55,326.23 L1031.44,314.98 L1014.61,303.73 L998.06,292.48 L981.78,281.23 L965.78,269.98 L950.04,258.73 L934.57,247.48 L919.36,236.23 L904.41,224.99 L889.72,213.74 L875.28,202.49 L861.09,191.24 L847.14,179.99 L833.45,168.74 L819.99,157.49 L806.78,146.24 L793.8,134.99 L781.06,123.74 L768.55,112.49 L756.27,101.25 L744.22,90 L732.39,78.75 L720.78,67.5 L709.39,56.25 L698.22,45 M1889.28,708.7 L1859.77,697.45 L1830.67,686.2 L1801.99,674.95 L1773.72,663.7 L1745.85,652.45 L1718.38,641.2 L1691.31,629.95 L1664.62,618.7 L1638.32,607.46 L1612.41,596.21 L1586.87,584.96 L1561.71,573.71 L1536.92,562.46 L1512.49,551.21 L1488.42,539.96 L1464.72,528.71 L1441.36,517.46 L1418.36,506.21 L1395.7,494.96 L1373.38,483.72 L1351.4,472.47 L1329.76,461.22 L1308.44,449.97 L1287.45,438.72 L1266.79,427.47 L1246.45,416.22 L1226.42,404.97 L1206.7,393.72 L1187.3,382.47 L1168.2,371.22 L1149.4,359.97 L1130.9,348.73 L1112.7,337.48 L1094.79,326.23 L1077.17,314.98 L1059.83,303.73 L1042.78,292.48 L1026.01,281.23 L1009.51,269.98 L993.29,258.73 L977.34,247.48 L961.66,236.23 L946.24,224.99 L931.08,213.74 L916.18,202.49 L901.54,191.24 L887.15,179.99 L873.01,168.74 L859.12,157.49 L845.47,146.24 L832.06,134.99 L818.9,123.74 L805.97,112.49 L793.27,101.25 L780.81,90 L768.57,78.75 L756.56,67.5 L744.78,56.25 L733.22,45 M1956.84,708.7 L1926.58,697.45 L1896.74,686.2 L1867.33,674.95 L1838.33,663.7 L1809.75,652.45 L1781.57,641.2 L1753.79,629.95 L1726.42,618.7 L1699.43,607.46 L1672.84,596.21 L1646.64,584.96 L1620.81,573.71 L1595.36,562.46 L1570.29,551.21 L1545.58,539.96 L1521.24,528.71 L1497.26,517.46 L1473.63,506.21 L1450.36,494.96 L1427.44,483.72 L1404.86,472.47 L1382.62,461.22 L1360.72,449.97 L1339.15,438.72 L1317.91,427.47 L1297,416.22 L1276.42,404.97 L1256.15,393.72 L1236.19,382.47 L1216.55,371.22 L1197.22,359.97 L1178.19,348.73 L1159.46,337.48 L1141.03,326.23 L1122.9,314.98 L1105.06,303.73 L1087.5,292.48 L1070.24,281.23 L1053.25,269.98 L1036.54,258.73 L1020.11,247.48 L1003.95,236.23 L988.07,224.99 L972.44,213.74 L957.09,202.49 L941.99,191.24 L927.15,179.99 L912.57,168.74 L898.24,157.49 L884.16,146.24 L870.32,134.99 L856.73,123.74 L843.38,112.49 L830.27,101.25 L817.4,90 L804.76,78.75 L792.35,67.5 L780.17,56.25 L768.21,45" stroke="#ff3838" stroke-width="1.2" fill="none"/>
<path d="M65.16,708.7 L59.57,701.61 L54.01,694.53 L48.5,687.45 L43.04,680.37 L37.63,673.29 L32.28,666.2 L26.98,659.12 L21.73,652.04 L16.55,644.96 L11.42,637.87 L6.36,630.79 L1.36,623.71 L-3.58,616.63 L-8.46,609.54 L-13.27,602.46 L-18.02,595.38 L-22.71,588.3 L-27.33,581.22 L-31.88,574.13 L-36.37,567.05 L-40.79,559.97 L-45.15,552.89 L-49.45,545.8 L-53.68,538.72 L-57.85,531.64 L-61.95,524.56 L-65.99,517.47 L-69.97,510.39 L-73.88,503.31 L-77.73,496.23 L-81.52,489.15 L-85.24,482.06 L-88.9,474.98 L-92.51,467.9 L-96.05,460.82 L-99.53,453.73 L-102.95,446.65 L-106.31,439.57 L-109.61,432.49 L-112.85,425.4 L-116.04,418.32 L-119.16,411.24 L-122.23,404.16 L-125.24,397.08 L-128.19,389.99 L-131.09,382.91 L-133.93,375.83 L-136.71,368.75 L-139.44,361.66 M98.94,708.7 L93.27,701.61 L87.62,694.53 L82,687.45 L76.42,680.37 L70.88,673.29 L65.38,666.2 L59.93,659.12 L54.53,652.04 L49.17,644.96 L43.88,637.87 L38.63,630.79 L33.45,623.71 L28.32,616.63 L23.25,609.54 L18.25,602.46 L13.3,595.38 L8.42,588.3 L3.6,581.22 L-1.15,574.13 L-5.85,567.05 L-10.47,559.97 L-15.03,552.89 L-19.53,545.8 L-23.97,538.72 L-28.33,531.64 L-32.64,524.56 L-36.88,517.47 L-41.05,510.39 L-45.17,503.31 L-49.21,496.23 L-53.2,489.15 L-57.12,482.06 L-60.98,474.98 L-64.77,467.9 L-68.51,460.82 L-72.18,453.73 L-75.79,446.65 L-79.34,439.57 L-82.83,432.49 L-86.26,425.4 L-89.63,418.32 L-92.94,411.24 L-96.19,404.16 L-99.38,397.08 L-102.52,389.99 L-105.59,382.91 L-108.61,375.83 L-111.57,368.75 L-114.48,361.66 M132.72,708.7 L127.04,701.61 L121.36,694.53 L115.7,687.45 L110.05,680.37 L104.43,673.29 L98.83,666.2 L93.27,659.12 L87.75,652.04 L82.26,644.96 L76.82,637.87 L71.42,630.79 L66.08,623.71 L60.78,616.63 L55.54,609.54 L50.35,602.46 L45.23,595.38 L40.16,588.3 L35.15,581.22 L30.2,574.13 L25.31,567.05 L20.49,559.97 L15.72,552.89 L11.03,545.8 L6.39,538.72 L1.82,531.64 L-2.68,524.56 L-7.12,517.47 L-11.5,510.39 L-15.81,503.31 L-20.06,496.23 L-24.25,489.15 L-28.37,482.06 L-32.42,474.98 L-36.42,467.9 L-40.35,460.82 L-44.22,453.73 L-48.02,446.65 L-51.76,439.57 L-55.45,432.49 L-59.07,425.4 L-62.62,418.32 L-66.12,411.24 L-69.56,404.16 L-72.94,397.08 L-76.26,389.99 L-79.52,382.91 L-82.72,375.83 L-85.86,368.75 L-88.94,361.66 M166.5,708.7 L160.9,701.61 L155.28,694.53 L149.65,687.45 L144.01,680.37 L138.38,673.29 L132.75,666.2 L127.14,659.12 L121.55,652.04 L115.98,644.96 L110.44,637.87 L104.93,630.79 L99.45,623.71 L94.02,616.63 L88.64,609.54 L83.29,602.46 L78,595.38 L72.76,588.3 L67.58,581.22 L62.45,574.13 L57.37,567.05 L52.36,559.97 L47.4,552.89 L42.51,545.8 L37.68,538.72 L32.91,531.64 L28.2,524.56 L23.56,517.47 L18.98,510.39 L14.47,503.31 L10.01,496.23 L5.63,489.15 L1.3,482.06 L-2.95,474.98 L-7.15,467.9 L-11.28,460.82 L-15.35,453.73 L-19.35,446.65 L-23.29,439.57 L-27.17,432.49 L-30.99,425.4 L-34.74,418.32 L-38.43,411.24 L-42.06,404.16 L-45.63,397.08 L-49.14,389.99 L-52.59,382.91 L-55.98,375.83 L-59.31,368.75 L-62.58,361.66 M200.28,708.7 L194.87,701.61 L189.41,694.53 L183.91,687.45 L178.39,680.37 L172.83,673.29 L167.27,666.2 L161.69,659.12 L156.1,652.04 L150.52,644.96 L144.95,637.87 L139.38,630.79 L133.84,623.71 L128.32,616.63 L122.83,609.54 L117.37,602.46 L111.95,595.38 L106.57,588.3 L101.24,581.22 L95.95,574.13 L90.71,567.05 L85.52,559.97 L80.38,552.89 L75.3,545.8 L70.28,538.72 L65.32,531.64 L60.41,524.56 L55.57,517.47 L50.79,510.39 L46.07,503.31 L41.42,496.23 L36.82,489.15 L32.29,482.06 L27.83,474.98 L23.43,467.9 L19.09,460.82 L14.82,453.73 L10.61,446.65 L6.46,439.57 L2.38,432.49 L-1.64,425.4 L-5.6,418.32 L-9.49,411.24 L-13.32,404.16 L-17.09,397.08 L-20.8,389.99 L-24.44,382.91 L-28.03,375.83 L-31.55,368.75 L-35.02,361.66 M234.06,708.7 L228.96,701.61 L223.78,694.53 L218.54,687.45 L213.24,680.37 L207.89,673.29 L202.49,666.2 L197.05,659.12 L191.58,652.04 L186.09,644.96 L180.58,637.87 L175.05,630.79 L169.52,623.71 L163.99,616.63 L158.46,609.54 L152.95,602.46 L147.46,595.38 L141.99,588.3 L136.55,581.22 L131.14,574.13 L125.76,567.05 L120.43,559.97 L115.14,552.89 L109.89,545.8 L104.7,538.72 L99.55,531.64 L94.46,524.56 L89.43,517.47 L84.45,510.39 L79.53,503.31 L74.67,496.23 L69.87,489.15 L65.13,482.06 L60.46,474.98 L55.85,467.9 L51.3,460.82 L46.81,453.73 L42.39,446.65 L38.03,439.57 L33.73,432.49 L29.5,425.4 L25.33,418.32 L21.22,411.24 L17.18,404.16 L13.2,397.08 L9.29,389.99 L5.43,382.91 L1.64,375.83 L-2.09,368.75 L-5.76,361.66 M267.84,708.7 L263.16,701.61 L258.4,694.53 L253.54,687.45 L248.6,680.37 L243.59,673.29 L238.5,666.2 L233.34,659.12 L228.12,652.04 L222.84,644.96 L217.52,637.87 L212.15,630.79 L206.75,623.71 L201.32,616.63 L195.87,609.54 L190.4,602.46 L184.93,595.38 L179.45,588.3 L173.98,581.22 L168.52,574.13 L163.07,567.05 L157.64,559.97 L152.24,552.89 L146.88,545.8 L141.54,538.72 L136.25,531.64 L131,524.56 L125.79,517.47 L120.63,510.39 L115.52,503.31 L110.47,496.23 L105.47,489.15 L100.52,482.06 L95.64,474.98 L90.81,467.9 L86.04,460.82 L81.34,453.73 L76.69,446.65 L72.11,439.57 L67.59,432.49 L63.13,425.4 L58.74,418.32 L54.41,411.24 L50.14,404.16 L45.94,397.08 L41.8,389.99 L37.73,382.91 L33.71,375.83 L29.76,368.75 L25.87,361.66 M301.62,708.7 L297.48,701.61 L293.23,694.53 L288.89,687.45 L284.45,680.37 L279.91,673.29 L275.27,666.2 L270.55,659.12 L265.74,652.04 L260.84,644.96 L255.87,637.87 L250.82,630.79 L245.71,623.71 L240.53,616.63 L235.31,609.54 L230.03,602.46 L224.71,595.38 L219.36,588.3 L213.98,581.22 L208.58,574.13 L203.17,567.05 L197.75,559.97 L192.33,552.89 L186.92,545.8 L181.52,538.72 L176.13,531.64 L170.77,524.56 L165.44,517.47 L160.14,510.39 L154.88,503.31 L149.65,496.23 L144.47,489.15 L139.34,482.06 L134.25,474.98 L129.22,467.9 L124.24,460.82 L119.31,453.73 L114.44,446.65 L109.63,439.57 L104.88,432.49 L100.19,425.4 L95.56,418.32 L91,411.24 L86.49,404.16 L82.05,397.08 L77.67,389.99 L73.35,382.91 L69.1,375.83 L64.91,368.75 L60.78,361.66 M335.4,708.7 L331.87,701.61 L328.24,694.53 L324.51,687.45 L320.68,680.37 L316.74,673.29 L312.7,666.2 L308.55,659.12 L304.31,652.04 L299.96,644.96 L295.51,637.87 L290.97,630.79 L286.34,623.71 L281.61,616.63 L276.8,609.54 L271.91,602.46 L266.94,595.38 L261.91,588.3 L256.81,581.22 L251.66,574.13 L246.45,567.05 L241.2,559.97 L235.92,552.89 L230.61,545.8 L225.27,538.72 L219.92,531.64 L214.57,524.56 L209.21,517.47 L203.86,510.39 L198.52,503.31 L193.19,496.23 L187.89,489.15 L182.62,482.06 L177.38,474.98 L172.17,467.9 L167,460.82 L161.88,453.73 L156.8,446.65 L151.77,439.57 L146.79,432.49 L141.87,425.4 L137,418.32 L132.18,411.24 L127.43,404.16 L122.73,397.08 L118.09,389.99 L113.52,382.91 L109,375.83 L104.55,368.75 L100.16,361.66 M369.18,708.7 L366.31,701.61 L363.34,694.53 L360.29,687.45 L357.14,680.37 L353.89,673.29 L350.54,666.2 L347.09,659.12 L343.54,652.04 L339.88,644.96 L336.12,637.87 L332.26,630.79 L328.28,623.71 L324.21,616.63 L320.03,609.54 L315.75,602.46 L311.36,595.38 L306.88,588.3 L302.31,581.22 L297.65,574.13 L292.9,567.05 L288.06,559.97 L283.16,552.89 L278.18,545.8 L273.14,538.72 L268.05,531.64 L262.9,524.56 L257.72,517.47 L252.49,510.39 L247.25,503.31 L241.98,496.23 L236.69,489.15 L231.41,482.06 L226.12,474.98 L220.84,467.9 L215.57,460.82 L210.32,453.73 L205.09,446.65 L199.89,439.57 L194.73,432.49 L189.6,425.4 L184.51,418.32 L179.47,411.24 L174.47,404.16 L169.52,397.08 L164.63,389.99 L159.78,382.91 L155,375.83 L150.27,368.75 L145.59,361.66 M402.96,708.7 L400.74,701.61 L398.45,694.53 L396.09,687.45 L393.64,680.37 L391.11,673.29 L388.5,666.2 L385.8,659.12 L383.02,652.04 L380.14,644.96 L377.16,637.87 L374.09,630.79 L370.92,623.71 L367.64,616.63 L364.27,609.54 L360.78,602.46 L357.2,595.38 L353.5,588.3 L349.7,581.22 L345.79,574.13 L341.77,567.05 L337.65,559.97 L333.42,552.89 L329.09,545.8 L324.67,538.72 L320.15,531.64 L315.53,524.56 L310.84,517.47 L306.06,510.39 L301.21,503.31 L296.29,496.23 L291.3,489.15 L286.27,482.06 L281.18,474.98 L276.06,467.9 L270.9,460.82 L265.72,453.73 L260.52,446.65 L255.31,439.57 L250.1,432.49 L244.89,425.4 L239.69,418.32 L234.51,411.24 L229.34,404.16 L224.21,397.08 L219.1,389.99 L214.03,382.91 L208.99,375.83 L204,368.75 L199.06,361.66 M436.74,708.7 L435.14,701.61 L433.49,694.53 L431.79,687.45 L430.02,680.37 L428.2,673.29 L426.31,666.2 L424.35,659.12 L422.33,652.04 L420.23,644.96 L418.06,637.87 L415.81,630.79 L413.48,623.71 L411.07,616.63 L408.57,609.54 L405.99,602.46 L403.31,595.38 L400.53,588.3 L397.66,581.22 L394.69,574.13 L391.62,567.05 L388.44,559.97 L385.16,552.89 L381.76,545.8 L378.26,538.72 L374.65,531.64 L370.93,524.56 L367.1,517.47 L363.16,510.39 L359.12,503.31 L354.97,496.23 L350.71,489.15 L346.36,482.06 L341.91,474.98 L337.36,467.9 L332.74,460.82 L328.03,453.73 L323.25,446.65 L318.4,439.57 L313.48,432.49 L308.52,425.4 L303.51,418.32 L298.46,411.24 L293.39,404.16 L288.29,397.08 L283.17,389.99 L278.05,382.91 L272.92,375.83 L267.8,368.75 L262.7,361.66 M470.52,708.7 L469.49,701.61 L468.41,694.53 L467.3,687.45 L466.16,680.37 L464.97,673.29 L463.74,666.2 L462.46,659.12 L461.14,652.04 L459.77,644.96 L458.35,637.87 L456.88,630.79 L455.34,623.71 L453.75,616.63 L452.1,609.54 L450.39,602.46 L448.61,595.38 L446.76,588.3 L444.83,581.22 L442.83,574.13 L440.75,567.05 L438.6,559.97 L436.35,552.89 L434.02,545.8 L431.6,538.72 L429.09,531.64 L426.48,524.56 L423.77,517.47 L420.96,510.39 L418.04,503.31 L415.02,496.23 L411.89,489.15 L408.65,482.06 L405.29,474.98 L401.83,467.9 L398.25,460.82 L394.56,453.73 L390.76,446.65 L386.85,439.57 L382.83,432.49 L378.7,425.4 L374.47,418.32 L370.15,411.24 L365.72,404.16 L361.21,397.08 L356.62,389.99 L351.95,382.91 L347.21,375.83 L342.4,368.75 L337.55,361.66 M504.3,708.7 L503.75,701.61 L503.18,694.53 L502.59,687.45 L501.98,680.37 L501.34,673.29 L500.68,666.2 L499.99,659.12 L499.28,652.04 L498.53,644.96 L497.76,637.87 L496.95,630.79 L496.11,623.71 L495.24,616.63 L494.33,609.54 L493.37,602.46 L492.38,595.38 L491.35,588.3 L490.27,581.22 L489.14,574.13 L487.96,567.05 L486.73,559.97 L485.45,552.89 L484.1,545.8 L482.7,538.72 L481.24,531.64 L479.71,524.56 L478.12,517.47 L476.45,510.39 L474.71,503.31 L472.89,496.23 L471,489.15 L469.02,482.06 L466.95,474.98 L464.8,467.9 L462.55,460.82 L460.21,453.73 L457.77,446.65 L455.22,439.57 L452.58,432.49 L449.82,425.4 L446.96,418.32 L443.99,411.24 L440.9,404.16 L437.7,397.08 L434.38,389.99 L430.94,382.91 L427.39,375.83 L423.73,368.75 L419.95,361.66 M538.08,708.7 L537.92,701.61 L537.75,694.53 L537.57,687.45 L537.38,680.37 L537.18,673.29 L536.97,666.2 L536.75,659.12 L536.51,652.04 L536.26,644.96 L535.99,637.87 L535.71,630.79 L535.41,623.71 L535.1,616.63 L534.76,609.54 L534.41,602.46 L534.03,595.38 L533.63,588.3 L533.21,581.22 L532.76,574.13 L532.28,567.05 L531.78,559.97 L531.24,552.89 L530.68,545.8 L530.08,538.72 L529.45,531.64 L528.78,524.56 L528.08,517.47 L527.33,510.39 L526.54,503.31 L525.71,496.23 L524.83,489.15 L523.91,482.06 L522.93,474.98 L521.9,467.9 L520.82,460.82 L519.67,453.73 L518.47,446.65 L517.2,439.57 L515.86,432.49 L514.46,425.4 L512.99,418.32 L511.43,411.24 L509.8,404.16 L508.09,397.08 L506.29,389.99 L504.41,382.91 L502.43,375.83 L500.36,368.75 L498.19,361.66 M571.86,708.7 L572,701.61 L572.14,694.53 L572.28,687.45 L572.41,680.37 L572.55,673.29 L572.68,666.2 L572.81,659.12 L572.94,652.04 L573.06,644.96 L573.18,637.87 L573.3,630.79 L573.41,623.71 L573.51,616.63 L573.6,609.54 L573.69,602.46 L573.77,595.38 L573.84,588.3 L573.91,581.22 L573.96,574.13 L574,567.05 L574.03,559.97 L574.04,552.89 L574.04,545.8 L574.03,538.72 L574,531.64 L573.96,524.56 L573.9,517.47 L573.82,510.39 L573.72,503.31 L573.6,496.23 L573.46,489.15 L573.29,482.06 L573.1,474.98 L572.89,467.9 L572.64,460.82 L572.37,453.73 L572.07,446.65 L571.74,439.57 L571.38,432.49 L570.97,425.4 L570.54,418.32 L570.06,411.24 L569.55,404.16 L568.99,397.08 L568.39,389.99 L567.74,382.91 L567.04,375.83 L566.29,368.75 L565.48,361.66 M605.64,708.7 L606.03,701.61 L606.43,694.53 L606.84,687.45 L607.25,680.37 L607.66,673.29 L608.08,666.2 L608.5,659.12 L608.93,652.04 L609.36,644.96 L609.79,637.87 L610.22,630.79 L610.66,623.71 L611.1,616.63 L611.54,609.54 L611.99,602.46 L612.43,595.38 L612.88,588.3 L613.32,581.22 L613.77,574.13 L614.21,567.05 L614.65,559.97 L615.1,552.89 L615.54,545.8 L615.97,538.72 L616.41,531.64 L616.84,524.56 L617.26,517.47 L617.69,510.39 L618.1,503.31 L618.52,496.23 L618.92,489.15 L619.32,482.06 L619.71,474.98 L620.1,467.9 L620.47,460.82 L620.84,453.73 L621.19,446.65 L621.54,439.57 L621.87,432.49 L622.19,425.4 L622.5,418.32 L622.79,411.24 L623.07,404.16 L623.34,397.08 L623.58,389.99 L623.81,382.91 L624.02,375.83 L624.21,368.75 L624.38,361.66" stroke="#006400" stroke-width="1.2" fill="none"/>
<path d="M213.52,722.76 L219.44,709.51 L225.38,696.27 L231.34,683.02 L237.31,669.77 L243.31,656.53 L249.32,643.28 L255.34,630.04 L261.39,616.79 L267.45,603.54 L273.53,590.3 L279.62,577.05 L285.73,563.8 L291.86,550.56 L298.01,537.31 L304.17,524.06 L310.34,510.82 L316.54,497.57 L322.75,484.32 L328.97,471.08 L335.21,457.83 L341.47,444.59 M271.72,722.76 L277.35,709.51 L283.01,696.27 L288.68,683.02 L294.38,669.77 L300.09,656.53 L305.83,643.28 L311.58,630.04 L317.35,616.79 L323.14,603.54 L328.95,590.3 L334.78,577.05 L340.63,563.8 L346.49,550.56 L352.38,537.31 L358.28,524.06 L364.2,510.82 L370.14,497.57 L376.09,484.32 L382.07,471.08 L388.06,457.83 L394.07,444.59 M307.86,722.76 L313.31,709.51 L318.78,696.27 L324.28,683.02 L329.79,669.77 L335.33,656.53 L340.89,643.28 L346.46,630.04 L352.06,616.79 L357.68,603.54 L363.32,590.3 L368.98,577.05 L374.66,563.8 L380.35,550.56 L386.07,537.31 L391.81,524.06 L397.57,510.82 L403.34,497.57 L409.14,484.32 L414.95,471.08 L420.78,457.83 L426.63,444.59 M334.51,722.76 L339.82,709.51 L345.16,696.27 L350.52,683.02 L355.9,669.77 L361.3,656.53 L366.73,643.28 L372.17,630.04 L377.64,616.79 L383.13,603.54 L388.64,590.3 L394.17,577.05 L399.72,563.8 L405.3,550.56 L410.89,537.31 L416.5,524.06 L422.14,510.82 L427.79,497.57 L433.46,484.32 L439.16,471.08 L444.87,457.83 L450.6,444.59 M373.59,722.76 L378.7,709.51 L383.83,696.27 L388.98,683.02 L394.16,669.77 L399.37,656.53 L404.59,643.28 L409.84,630.04 L415.12,616.79 L420.41,603.54 L425.73,590.3 L431.07,577.05 L436.43,563.8 L441.82,550.56 L447.23,537.31 L452.66,524.06 L458.11,510.82 L463.58,497.57 L469.07,484.32 L474.58,471.08 L480.12,457.83 L485.67,444.59 M402.45,722.76 L407.41,709.51 L412.39,696.27 L417.39,683.02 L422.42,669.77 L427.47,656.53 L432.55,643.28 L437.65,630.04 L442.78,616.79 L447.93,603.54 L453.1,590.3 L458.3,577.05 L463.52,563.8 L468.76,550.56 L474.03,537.31 L479.32,524.06 L484.63,510.82 L489.97,497.57 L495.32,484.32 L500.7,471.08 L506.1,457.83 L511.53,444.59 M425.53,722.76 L430.36,709.51 L435.21,696.27 L440.09,683.02 L445,669.77 L449.93,656.53 L454.88,643.28 L459.87,630.04 L464.87,616.79 L469.91,603.54 L474.96,590.3 L480.04,577.05 L485.15,563.8 L490.28,550.56 L495.43,537.31 L500.61,524.06 L505.81,510.82 L511.03,497.57 L516.28,484.32 L521.55,471.08 L526.84,457.83 L532.16,444.59 M469.09,722.76 L473.67,709.51 L478.29,696.27 L482.93,683.02 L487.6,669.77 L492.29,656.53 L497.02,643.28 L501.77,630.04 L506.55,616.79 L511.35,603.54 L516.18,590.3 L521.04,577.05 L525.92,563.8 L530.83,550.56 L535.77,537.31 L540.73,524.06 L545.72,510.82 L550.73,497.57 L555.77,484.32 L560.83,471.08 L565.91,457.83 L571.02,444.59 M501.33,722.76 L505.73,709.51 L510.17,696.27 L514.63,683.02 L519.12,669.77 L523.64,656.53 L528.18,643.28 L532.76,630.04 L537.37,616.79 L542,603.54 L546.66,590.3 L551.35,577.05 L556.07,563.8 L560.81,550.56 L565.58,537.31 L570.38,524.06 L575.21,510.82 L580.06,497.57 L584.94,484.32 L589.84,471.08 L594.77,457.83 L599.72,444.59 M527.16,722.76 L531.41,709.51 L535.69,696.27 L540.01,683.02 L544.35,669.77 L548.73,656.53 L553.13,643.28 L557.57,630.04 L562.03,616.79 L566.53,603.54 L571.05,590.3 L575.6,577.05 L580.19,563.8 L584.79,550.56 L589.43,537.31 L594.1,524.06 L598.79,510.82 L603.51,497.57 L608.26,484.32 L613.04,471.08 L617.84,457.83 L622.67,444.59 M548.8,722.76 L552.93,709.51 L557.09,696.27 L561.28,683.02 L565.5,669.77 L569.75,656.53 L574.04,643.28 L578.35,630.04 L582.7,616.79 L587.08,603.54 L591.48,590.3 L595.92,577.05 L600.38,563.8 L604.88,550.56 L609.41,537.31 L613.96,524.06 L618.54,510.82 L623.15,497.57 L627.79,484.32 L632.46,471.08 L637.15,457.83 L641.87,444.59 M567.51,722.76 L571.52,709.51 L575.57,696.27 L579.65,683.02 L583.77,669.77 L587.91,656.53 L592.09,643.28 L596.3,630.04 L600.55,616.79 L604.82,603.54 L609.12,590.3 L613.46,577.05 L617.82,563.8 L622.22,550.56 L626.65,537.31 L631.1,524.06 L635.59,510.82 L640.1,497.57 L644.64,484.32 L649.22,471.08 L653.82,457.83 L658.45,444.59 M584.02,722.76 L587.93,709.51 L591.88,696.27 L595.87,683.02 L599.89,669.77 L603.94,656.53 L608.02,643.28 L612.14,630.04 L616.29,616.79 L620.47,603.54 L624.68,590.3 L628.93,577.05 L633.21,563.8 L637.51,550.56 L641.85,537.31 L646.22,524.06 L650.62,510.82 L655.05,497.57 L659.51,484.32 L663.99,471.08 L668.51,457.83 L673.06,444.59" stroke="#a020f0" stroke-width="1.2" fill="none" stroke-dasharray="4.5 2.2"/>
<path d="M324.23,722.76 L819.2,45" stroke="#2848ff" stroke-width="3" fill="none"/>
<path d="M391.2,44.1 L370.7,78.3 L354.4,111.1 L338,137 L316.1,164.4 L295.6,190.3 L275.1,214.9 L256,246.3 L240.6,268.7 L245.8,295.9 L257.3,314.5 L271.6,336 L285.9,360.4 L296,380.4 L300.3,394.8 L308.9,417.7 L317.4,434.9 L330.3,460 L338.2,472.8 L349.9,493.9 L362.8,531.4 L378,549 L378,564.2 L375.6,579.4 L365.1,593.5 L358.1,608.7 L349,638.7 L340.5,651.6 L334,668.7 L326.5,675.2 L327.6,680.6 L342.6,695.6 L358.2,707.8 L360.3,710.6 L353.8,711.8" stroke="#ff3a3a" stroke-width="4" fill="none" stroke-linejoin="round" stroke-linecap="round"/>
<path d="M194.8,190.4 L183.9,210 L165.6,243.8 L183.9,268.5 L207.3,297.2 L202.1,350.6 L212.5,362.3 L230.5,379.8 L244.4,404.8 L235.8,429.2 L256.1,450.5 L259.7,472.8 L281.9,493.9 L296,512.6 L327.6,531.4 L298.3,547.8 L326.4,563 L312.4,579.4 L247.9,593.5 L208.1,604 L210.5,617 L233,627.9 L192.2,643.5 L184.5,647.6 L180.2,652.8 L178.9,659 L179.6,665.2 L181.5,671 L245.9,675.2 L269.6,681.6 L265.3,705.3 L266.3,710.6 L272.8,711.7" stroke="#00e000" stroke-width="4" fill="none" stroke-linejoin="round" stroke-linecap="round"/>
</g>
<path d="M60,45 L605,45 M60,244.79 L605,244.79 M60,361.66 L605,361.66 M60,444.59 L605,444.59 M60,508.9 L605,508.9 M60,561.46 L605,561.46 M60,605.89 L605,605.89 M60,644.38 L605,644.38 M60,678.33 L605,678.33 M60,708.7 L605,708.7" stroke="#000" stroke-width="2" fill="none"/>
<rect x="65" y="45" width="540" height="678" fill="none" stroke="#000" stroke-width="2"/>
<text transform="translate(127,16) scale(1.15,1)" font-size="20" font-weight="normal" fill="#000" textLength="119.97" lengthAdjust="spacing">2025112600</text>
<text transform="translate(279.8,16) scale(0.953,1)" font-size="20" font-weight="normal" fill="#000" textLength="45.17" lengthAdjust="spacing">NAM</text>
<text transform="translate(336.9,16) scale(1.009,1)" font-size="20" font-weight="normal" fill="#000" textLength="55.14" lengthAdjust="spacing">BUFR</text>
<text transform="translate(406,16) scale(1.15,1)" font-size="20" font-weight="normal" fill="#000" textLength="85.34" lengthAdjust="spacing">Sounding</text>
<text transform="translate(520,16) scale(1.15,1)" font-size="20" font-weight="normal" fill="#000" textLength="23.42" lengthAdjust="spacing">for</text>
<text transform="translate(561.2,16) scale(1.053,1)" font-size="20" font-weight="normal" fill="#000" textLength="53.52" lengthAdjust="spacing">KBNA</text>
<text transform="translate(164.9,38.7) scale(1.15,1)" font-size="20" font-weight="normal" fill="#000" textLength="33.83" lengthAdjust="spacing">70h</text>
<text transform="translate(220.5,38.7) scale(1.15,1)" font-size="20" font-weight="normal" fill="#000" textLength="74.83" lengthAdjust="spacing">forecast</text>
<text transform="translate(321.8,38.7) scale(1.107,1)" font-size="20" font-weight="normal" fill="#000" textLength="41.6" lengthAdjust="spacing">valid</text>
<text transform="translate(381.6,38.7) scale(1.15,1)" font-size="20" font-weight="normal" fill="#000" textLength="119.79" lengthAdjust="spacing">2025112822</text>
<text transform="translate(533.9,38.7) scale(1.15,1)" font-size="20" font-weight="normal" fill="#000" textLength="39.26" lengthAdjust="spacing">(Fri)</text>
<text transform="translate(27.8,50.8) scale(1.008,1)" font-size="16" font-weight="normal" fill="#000" textLength="27.5" lengthAdjust="spacing">100</text>
<text transform="translate(28.8,250.59) scale(0.97,1)" font-size="16" font-weight="normal" fill="#000" textLength="26.74" lengthAdjust="spacing">200</text>
<text transform="translate(28.8,367.46) scale(0.97,1)" font-size="16" font-weight="normal" fill="#000" textLength="26.74" lengthAdjust="spacing">300</text>
<text transform="translate(28.8,450.39) scale(0.97,1)" font-size="16" font-weight="normal" fill="#000" textLength="26.74" lengthAdjust="spacing">400</text>
<text transform="translate(28.8,514.7) scale(0.97,1)" font-size="16" font-weight="normal" fill="#000" textLength="26.74" lengthAdjust="spacing">500</text>
<text transform="translate(28.8,567.26) scale(0.97,1)" font-size="16" font-weight="normal" fill="#000" textLength="26.74" lengthAdjust="spacing">600</text>
<text transform="translate(27.8,611.69) scale(1.008,1)" font-size="16" font-weight="normal" fill="#000" textLength="27.5" lengthAdjust="spacing">700</text>
<text transform="translate(28.8,650.18) scale(0.97,1)" font-size="16" font-weight="normal" fill="#000" textLength="26.74" lengthAdjust="spacing">800</text>
<text transform="translate(28.8,684.13) scale(0.97,1)" font-size="16" font-weight="normal" fill="#000" textLength="26.74" lengthAdjust="spacing">900</text>
<text transform="translate(19.8,714.5) scale(0.977,1)" font-size="16" font-weight="normal" fill="#000" textLength="35.96" lengthAdjust="spacing">1000</text>
<text transform="translate(113.5,743.3) scale(1.15,1)" font-size="19.5" font-weight="normal" fill="#3a5cff" textLength="22.29" lengthAdjust="spacing">30</text>
<text transform="translate(181,743.3) scale(1.15,1)" font-size="19.5" font-weight="normal" fill="#3a5cff" textLength="22.29" lengthAdjust="spacing">20</text>
<text transform="translate(250.7,743.3) scale(1.067,1)" font-size="19.5" font-weight="normal" fill="#3a5cff" textLength="22.46" lengthAdjust="spacing">10</text>
<text transform="translate(376.2,743.3) scale(1.081,1)" font-size="19.5" font-weight="normal" fill="#3a5cff" textLength="21.8" lengthAdjust="spacing">10</text>
<text transform="translate(441.1,743.3) scale(1.15,1)" font-size="19.5" font-weight="normal" fill="#3a5cff" textLength="23.54" lengthAdjust="spacing">20</text>
<text transform="translate(509.3,743.3) scale(1.15,1)" font-size="19.5" font-weight="normal" fill="#3a5cff" textLength="22.83" lengthAdjust="spacing">30</text>
<text transform="translate(577.5,743.3) scale(1.136,1)" font-size="19.5" font-weight="normal" fill="#3a5cff" textLength="22.23" lengthAdjust="spacing">40</text>
<text transform="translate(245.7,760.5) scale(1.05,1)" font-size="17" font-weight="normal" fill="#2846ff" stroke="#2846ff" stroke-width="0.5" textLength="152.18" lengthAdjust="spacing">Temperature (°C)</text>
<text transform="translate(556.3,760.1) scale(1.15,1)" font-size="16" font-weight="normal" fill="#ff4444" textLength="162.96" lengthAdjust="spacing">coolwx.com/models</text>
<text transform="translate(533.5,439.6) scale(1.008,1)" font-size="12" font-weight="normal" fill="#a020f0" textLength="13.73" lengthAdjust="spacing">10</text>
<text transform="translate(571.5,439.6) scale(1.15,1)" font-size="12" font-weight="normal" fill="#a020f0" textLength="14.02" lengthAdjust="spacing">15</text>
<text transform="translate(600.4,439.6) scale(1.093,1)" font-size="12" font-weight="normal" fill="#a020f0" textLength="14.04" lengthAdjust="spacing">20</text>
<text transform="translate(613,501.7) scale(1.1,1)" font-size="12" font-weight="normal" fill="#a020f0" textLength="13.04" lengthAdjust="spacing">25</text>
<text transform="translate(613,561.6) scale(1.021,1)" font-size="12" font-weight="normal" fill="#a020f0" textLength="14.05" lengthAdjust="spacing">30</text>
<text transform="translate(613,614.7) scale(1.1,1)" font-size="12" font-weight="normal" fill="#a020f0" textLength="13.04" lengthAdjust="spacing">35</text>
<text transform="translate(613,665.8) scale(1.021,1)" font-size="12" font-weight="normal" fill="#a020f0" textLength="14.05" lengthAdjust="spacing">40</text>
<text transform="translate(750,58.8) scale(1.15,1)" font-size="12.5" font-weight="normal" fill="#222" textLength="33.02" lengthAdjust="spacing">knots</text>
<text transform="translate(750.4,706.3) scale(1.15,1)" font-size="16" font-weight="normal" fill="#222" textLength="151.58" lengthAdjust="spacing">NCEP 1−Hr PType:</text>
<text transform="translate(815.6,728.8) scale(1.15,1)" font-size="15" font-weight="normal" fill="#222" textLength="38.16" lengthAdjust="spacing">None</text>
<text transform="translate(806.4,750.8) scale(1.15,1)" font-size="13" font-weight="normal" fill="#222" textLength="54.82" lengthAdjust="spacing">(0&quot; L.E.)</text>
<text transform="translate(883.3,289.4) scale(1.15,1)" font-size="12" font-weight="normal" fill="#1a1a1a" textLength="14.96" lengthAdjust="spacing">37</text>
<text transform="translate(773.6,306.9) scale(0.82,1)" font-size="12" font-weight="normal" fill="#1a1a1a" textLength="15.59" lengthAdjust="spacing">TT</text>
<text transform="translate(773.6,320.6) scale(1.15,1)" font-size="12" font-weight="normal" fill="#1a1a1a" textLength="54.65" lengthAdjust="spacing">PW (cm)</text>
<text transform="translate(871.7,320.6) scale(1.15,1)" font-size="12" font-weight="normal" fill="#1a1a1a" textLength="26.17" lengthAdjust="spacing">0.58</text>
<text transform="translate(773.6,370.3) scale(1.15,1)" font-size="12" font-weight="normal" fill="#1a1a1a" textLength="72.01" lengthAdjust="spacing">Press (mb)</text>
<text transform="translate(871.9,370.3) scale(1.15,1)" font-size="12" font-weight="normal" fill="#1a1a1a" textLength="43.08" lengthAdjust="spacing">1010.3</text>
<text transform="translate(773.6,384) scale(1.15,1)" font-size="12" font-weight="normal" fill="#1a1a1a" textLength="64.3" lengthAdjust="spacing">Temp (°C)</text>
<text transform="translate(871.7,384) scale(1.15,1)" font-size="12" font-weight="normal" fill="#1a1a1a" textLength="17.38" lengthAdjust="spacing">3.1</text>
<text transform="translate(773.6,397.2) scale(1.15,1)" font-size="12" font-weight="normal" fill="#1a1a1a" textLength="64.3" lengthAdjust="spacing">Dewp (°C)</text>
<text transform="translate(883.3,397.2) scale(1.15,1)" font-size="12" font-weight="normal" fill="#1a1a1a" textLength="17.91" lengthAdjust="spacing">8.9</text>
<text transform="translate(794.9,410.8) scale(1.15,1)" font-size="12" font-weight="normal" fill="#1a1a1a" textLength="17.22" lengthAdjust="spacing">(K)</text>
<text transform="translate(871.7,410.8) scale(1.15,1)" font-size="12" font-weight="normal" fill="#1a1a1a" textLength="34.6" lengthAdjust="spacing">281.0</text>
<text transform="translate(773.6,424.1) scale(1.15,1)" font-size="12" font-weight="normal" fill="#1a1a1a" textLength="41.1" lengthAdjust="spacing">LI (°C)</text>
<text transform="translate(871.7,424.1) scale(1.15,1)" font-size="12" font-weight="normal" fill="#1a1a1a" textLength="26.17" lengthAdjust="spacing">25.0</text>
<text transform="translate(773.6,437.8) scale(1.15,1)" font-size="12" font-weight="normal" fill="#1a1a1a" textLength="77.48" lengthAdjust="spacing">CAPE (Jkg<tspan font-size="8" dy="-4">−1</tspan><tspan dy="4">)</tspan></text>
<text transform="translate(773.6,450.6) scale(1.15,1)" font-size="12" font-weight="normal" fill="#1a1a1a" textLength="66.79" lengthAdjust="spacing">CIN (Jkg<tspan font-size="8" dy="-4">−1</tspan><tspan dy="4">)</tspan></text>
<text transform="translate(773.6,497.9) scale(1.15,1)" font-size="12" font-weight="normal" fill="#1a1a1a" textLength="72.01" lengthAdjust="spacing">Press (mb)</text>
<text transform="translate(870.5,497.9) scale(1.15,1)" font-size="12" font-weight="normal" fill="#1a1a1a" textLength="36.14" lengthAdjust="spacing">783.2</text>
<text transform="translate(773.6,510.8) scale(1.15,1)" font-size="12" font-weight="normal" fill="#1a1a1a" textLength="64.3" lengthAdjust="spacing">Temp (°C)</text>
<text transform="translate(871.5,510.8) scale(1.15,1)" font-size="12" font-weight="normal" fill="#1a1a1a" textLength="17.38" lengthAdjust="spacing">3.1</text>
<text transform="translate(773.6,524.3) scale(1.15,1)" font-size="12" font-weight="normal" fill="#1a1a1a" textLength="64.3" lengthAdjust="spacing">Dewp (°C)</text>
<text transform="translate(883.1,524.3) scale(1.15,1)" font-size="12" font-weight="normal" fill="#1a1a1a" textLength="17.91" lengthAdjust="spacing">8.9</text>
<text transform="translate(794.9,537.8) scale(1.15,1)" font-size="12" font-weight="normal" fill="#1a1a1a" textLength="17.22" lengthAdjust="spacing">(K)</text>
<text transform="translate(871.5,537.8) scale(1.15,1)" font-size="12" font-weight="normal" fill="#1a1a1a" textLength="34.44" lengthAdjust="spacing">288.4</text>
<text transform="translate(773.6,551.3) scale(1.15,1)" font-size="12" font-weight="normal" fill="#1a1a1a" textLength="41.1" lengthAdjust="spacing">LI (°C)</text>
<text transform="translate(870.5,551.3) scale(1.15,1)" font-size="12" font-weight="normal" fill="#1a1a1a" textLength="25.95" lengthAdjust="spacing">19.1</text>
<text transform="translate(773.6,564.8) scale(1.15,1)" font-size="12" font-weight="normal" fill="#1a1a1a" textLength="77.48" lengthAdjust="spacing">CAPE (Jkg<tspan font-size="8" dy="-4">−1</tspan><tspan dy="4">)</tspan></text>
<text transform="translate(773.6,578.3) scale(1.15,1)" font-size="12" font-weight="normal" fill="#1a1a1a" textLength="66.79" lengthAdjust="spacing">CIN (Jkg<tspan font-size="8" dy="-4">−1</tspan><tspan dy="4">)</tspan></text>
<text transform="translate(773.6,614.5) scale(1.15,1)" font-size="12" font-weight="normal" fill="#1a1a1a" textLength="63.4" lengthAdjust="spacing">EH (Jkg<tspan font-size="8" dy="-4">−1</tspan><tspan dy="4">)</tspan></text>
<text transform="translate(882.7,614.5) scale(1.15,1)" font-size="12" font-weight="normal" fill="#1a1a1a" textLength="15.73" lengthAdjust="spacing">19</text>
<text transform="translate(772.6,628.1) scale(1.15,1)" font-size="12" font-weight="normal" fill="#1a1a1a" textLength="80.98" lengthAdjust="spacing">SREH (Jkg<tspan font-size="8" dy="-4">−1</tspan><tspan dy="4">)</tspan></text>
<text transform="translate(883.7,628.1) scale(1.15,1)" font-size="12" font-weight="normal" fill="#1a1a1a" textLength="14.77" lengthAdjust="spacing">34</text>
<text transform="translate(772.6,650.6) scale(1.15,1)" font-size="12" font-weight="normal" fill="#1a1a1a" textLength="65.69" lengthAdjust="spacing">StmDir (°)</text>
<text transform="translate(871.2,650.6) scale(1.15,1)" font-size="12" font-weight="normal" fill="#1a1a1a" textLength="22.99" lengthAdjust="spacing">320</text>
<text transform="translate(772.6,663.8) scale(1.15,1)" font-size="12" font-weight="normal" fill="#1a1a1a" textLength="77.81" lengthAdjust="spacing">StmSpd (kt)</text>
<text transform="translate(871.2,663.8) scale(1.15,1)" font-size="12" font-weight="normal" fill="#1a1a1a" textLength="14.77" lengthAdjust="spacing">39</text>
<text transform="translate(796.2,347.4) scale(1.15,1)" font-size="12" font-weight="normal" fill="#1a1a1a" textLength="76.75" lengthAdjust="spacing">Lowest level</text>
<text transform="translate(792.4,474.6) scale(1.15,1)" font-size="12" font-weight="normal" fill="#1a1a1a" textLength="89.58" lengthAdjust="spacing">Most Unstable</text>
<text transform="translate(806.5,596.6) scale(1.15,1)" font-size="12" font-weight="normal" fill="#1a1a1a" textLength="66.57" lengthAdjust="spacing">Hodograph</text>
<rect x="97" y="736.75" width="13" height="1.5" fill="#3a5cff"/>
<rect x="164.5" y="736.75" width="13" height="1.5" fill="#3a5cff"/>
<rect x="232.2" y="736.75" width="13" height="1.5" fill="#3a5cff"/>
<rect x="871.7" y="284.9" width="8.9" height="1.2" fill="#1a1a1a"/>
<rect x="871.7" y="392.7" width="8.9" height="1.2" fill="#1a1a1a"/>
<rect x="871.5" y="519.8" width="8.9" height="1.2" fill="#1a1a1a"/>
<rect x="872.1" y="610" width="8.9" height="1.2" fill="#1a1a1a"/>
<rect x="872.1" y="623.6" width="8.9" height="1.2" fill="#1a1a1a"/>
<text transform="translate(320,743.3) scale(1.12,1)" font-size="19.5" fill="#3a5cff" text-anchor="middle">0</text>
<text transform="translate(343.7,439.6) scale(1.12,1)" font-size="12" fill="#a020f0" text-anchor="middle">1</text>
<text transform="translate(397.5,439.6) scale(1.12,1)" font-size="12" fill="#a020f0" text-anchor="middle">2</text>
<text transform="translate(429.9,439.6) scale(1.12,1)" font-size="12" fill="#a020f0" text-anchor="middle">3</text>
<text transform="translate(454.0,439.6) scale(1.12,1)" font-size="12" fill="#a020f0" text-anchor="middle">4</text>
<text transform="translate(489.5,439.6) scale(1.12,1)" font-size="12" fill="#a020f0" text-anchor="middle">6</text>
<text transform="translate(515.7,439.6) scale(1.12,1)" font-size="12" fill="#a020f0" text-anchor="middle">8</text>
<text transform="translate(20.3,447.9) rotate(-90)" x="0" y="0" font-size="17" fill="#000" stroke="#000" stroke-width="0.5" textLength="129.68" lengthAdjust="spacing">Pressure (mb)</text>
<text transform="translate(648.5,584.9) rotate(-90)" x="0" y="0" font-size="17.5" fill="#a020f0" stroke="#a020f0" stroke-width="0.5" textLength="177.36" lengthAdjust="spacing">Mixing Ratio (g/kg)</text>
<text transform="translate(773.6,289.4) scale(1.12,1)" font-size="12" fill="#1a1a1a">K</text>
<text transform="translate(871.7,306.9) scale(1.12,1)" font-size="12" fill="#1a1a1a">4</text>
<text x="773.6" y="410.8" font-size="12.5" font-weight="bold" font-style="italic" fill="#1a1a1a" font-family="Liberation Serif">θ</text>
<text x="782.5" y="412.3" font-size="6.5" fill="#1a1a1a">E</text>
<text transform="translate(871.7,437.8) scale(1.12,1)" font-size="12" fill="#1a1a1a">0</text>
<text transform="translate(871.7,450.6) scale(1.12,1)" font-size="12" fill="#1a1a1a">0</text>
<text x="773.6" y="537.8" font-size="12.5" font-weight="bold" font-style="italic" fill="#1a1a1a" font-family="Liberation Serif">θ</text>
<text x="782.5" y="539.3" font-size="6.5" fill="#1a1a1a">E</text>
<text transform="translate(871.5,564.8) scale(1.12,1)" font-size="12" fill="#1a1a1a">0</text>
<text transform="translate(871.5,578.3) scale(1.12,1)" font-size="12" fill="#1a1a1a">0</text>
<g stroke="#333" stroke-width="1.3" fill="none"><rect x="768" y="271.2" width="158.2" height="401.2"/><path d="M768,328.9 H926.2 M768,457 H926.2 M768,582.3 H926.2 M743.6,711.2 H931.9"/></g>
<g clip-path="url(#ch)" fill="none" stroke="#000">
<circle cx="837.6" cy="135.1" r="30.86" stroke-width="1.15"/>
<circle cx="837.6" cy="135.1" r="61.71" stroke-width="1.15"/>
<circle cx="837.6" cy="135.1" r="92.56" stroke-width="1.15"/>
<path d="M745,135.1 H931 M837.6,45 V226" stroke-width="1.6"/>
<path d="M745.04,132.8 V137.4 M835,42.53 H840.2 M755.32,132.8 V137.4 M835,52.82 H840.2 M765.61,132.8 V137.4 M835,63.1 H840.2 M775.89,132.8 V137.4 M835,73.39 H840.2 M786.18,132.8 V137.4 M835,83.67 H840.2 M796.46,132.8 V137.4 M835,93.96 H840.2 M806.75,132.8 V137.4 M835,104.24 H840.2 M817.03,132.8 V137.4 M835,114.53 H840.2 M827.32,132.8 V137.4 M835,124.81 H840.2 M847.88,132.8 V137.4 M835,145.38 H840.2 M858.17,132.8 V137.4 M835,155.67 H840.2 M868.46,132.8 V137.4 M835,165.95 H840.2 M878.74,132.8 V137.4 M835,176.24 H840.2 M889.02,132.8 V137.4 M835,186.52 H840.2 M899.31,132.8 V137.4 M835,196.81 H840.2 M909.6,132.8 V137.4 M835,207.09 H840.2 M919.88,132.8 V137.4 M835,217.38 H840.2 M930.16,132.8 V137.4 M835,227.66 H840.2" stroke-width="1.4"/>
</g>
<rect x="745.1" y="45" width="185.8" height="181" fill="none" stroke="#000" stroke-width="2"/>
<text transform="translate(815.78,156.92) rotate(-45)" x="0.8" y="4.8" font-size="14.5" text-anchor="middle" fill="#222" textLength="16" lengthAdjust="spacing">15</text>
<text transform="translate(793.96,178.74) rotate(-45)" x="0.8" y="4.8" font-size="14.5" text-anchor="middle" fill="#222" textLength="16.5" lengthAdjust="spacing">30</text>
<text transform="translate(772.15,200.55) rotate(-45)" x="0.8" y="4.8" font-size="14.5" text-anchor="middle" fill="#222" textLength="16.5" lengthAdjust="spacing">45</text>
<path d="M842,136.3 L850.5,140.1 L853,143.5 L853,166 L858.8,167 L861.7,171.9 L867,176.5 L873,180.7 L882.5,188.4 L889.2,188.4 L889.5,192" stroke="#00dd00" stroke-width="3" fill="none" stroke-linejoin="round"/>
<path d="M837.6,135.1 L883.7,188.5" stroke="#ff4040" stroke-width="1.5"/>
<path d="M883,188.6 L888.6,188.3 L888.6,193.5 L890.8,196.6 L888.5,196.4 L885,194.6 L882,194 L882.3,191.5 Z" fill="#ff3838" stroke="#ff3838" stroke-width="0.8"/>
<path d="M698,44.6 V722.4" stroke="#505050" stroke-width="1.5"/>
<path d="M698,75.8 L664.1,69.37 M672.79,71.02 l1.12,-5.89" stroke="#aaff00" stroke-width="1.8" fill="none"/><path d="M664.1,69.37 L668.72,70.25 L668.42,60.01 Z" fill="#aaff00" stroke="#aaff00" stroke-width="0.8" stroke-linejoin="round"/><rect x="696.4" y="74.2" width="3.2" height="3.2" fill="#aaff00"/>
<path d="M698,107 L664.33,99.48 M672.96,101.41 l2.51,-11.22" stroke="#ffff00" stroke-width="1.8" fill="none"/><path d="M664.33,99.48 L668.92,100.51 L668.95,90.27 Z" fill="#ffff00" stroke="#ffff00" stroke-width="0.8" stroke-linejoin="round"/><rect x="696.4" y="105.4" width="3.2" height="3.2" fill="#ffff00"/>
<path d="M698,136.3 L664,130.45 M672.71,131.95 l1.95,-11.33 M677.24,132.73 l1.95,-11.33" stroke="#ffbb00" stroke-width="1.8" fill="none"/><path d="M664,130.45 L668.63,131.25 L668.16,121.02 Z" fill="#ffbb00" stroke="#ffbb00" stroke-width="0.8" stroke-linejoin="round"/><rect x="696.4" y="134.7" width="3.2" height="3.2" fill="#ffbb00"/>
<path d="M698,164 L664.42,156.1 M673.02,158.12 l2.63,-11.19 M677.5,159.18 l2.63,-11.19 M681.98,160.23 l1.37,-5.84" stroke="#ffb000" stroke-width="1.8" fill="none"/><path d="M664.42,156.1 L668.99,157.17 L669.14,146.94 Z" fill="#ffb000" stroke="#ffb000" stroke-width="0.8" stroke-linejoin="round"/><rect x="696.4" y="162.4" width="3.2" height="3.2" fill="#ffb000"/>
<path d="M698,190.4 L664.61,181.73 M673.16,183.95 l2.89,-11.13 M677.62,185.11 l2.89,-11.13 M682.07,186.26 l1.51,-5.81" stroke="#ffaa00" stroke-width="1.8" fill="none"/><path d="M664.61,181.73 L669.16,182.91 L669.54,172.68 Z" fill="#ffaa00" stroke="#ffaa00" stroke-width="0.8" stroke-linejoin="round"/><rect x="696.4" y="188.8" width="3.2" height="3.2" fill="#ffaa00"/>
<path d="M698,216.5 L664.29,209.18 M672.92,211.05 l2.44,-11.24 M677.42,212.03 l2.44,-11.24 M681.92,213.01 l2.44,-11.24" stroke="#ff9900" stroke-width="1.8" fill="none"/><path d="M664.29,209.18 L668.88,210.17 L668.85,199.93 Z" fill="#ff9900" stroke="#ff9900" stroke-width="0.8" stroke-linejoin="round"/><rect x="696.4" y="214.9" width="3.2" height="3.2" fill="#ff9900"/>
<path d="M698,242.5 L664.29,235.18 M672.92,237.05 l2.44,-11.24 M677.42,238.03 l2.44,-11.24 M681.92,239.01 l2.44,-11.24" stroke="#ffa000" stroke-width="1.8" fill="none"/><path d="M664.29,235.18 L668.88,236.17 L668.85,225.93 Z" fill="#ffa000" stroke="#ffa000" stroke-width="0.8" stroke-linejoin="round"/><rect x="696.4" y="240.9" width="3.2" height="3.2" fill="#ffa000"/>
<path d="M698,269.8 L664.29,262.48 M672.92,264.35 l2.44,-11.24 M677.42,265.33 l2.44,-11.24 M681.92,266.31 l2.44,-11.24 M686.41,267.28 l1.27,-5.86" stroke="#ff9000" stroke-width="1.8" fill="none"/><path d="M664.29,262.48 L668.88,263.47 L668.85,253.23 Z" fill="#ff9000" stroke="#ff9000" stroke-width="0.8" stroke-linejoin="round"/><rect x="696.4" y="268.2" width="3.2" height="3.2" fill="#ff9000"/>
<path d="M698,297 L664.33,289.48 M672.96,291.41 l2.51,-11.22 M677.45,292.41 l2.51,-11.22 M681.94,293.41 l2.51,-11.22 M686.42,294.42 l1.31,-5.86" stroke="#ff8c00" stroke-width="1.8" fill="none"/><path d="M664.33,289.48 L668.92,290.51 L668.95,280.27 Z" fill="#ff8c00" stroke="#ff8c00" stroke-width="0.8" stroke-linejoin="round"/><rect x="696.4" y="295.4" width="3.2" height="3.2" fill="#ff8c00"/>
<path d="M698,323.75 L664.44,315.76 M673.04,317.81 l2.66,-11.19 M677.51,318.87 l2.66,-11.19 M681.99,319.94 l2.66,-11.19" stroke="#ff8800" stroke-width="1.8" fill="none"/><path d="M664.44,315.76 L669.01,316.85 L669.19,306.61 Z" fill="#ff8800" stroke="#ff8800" stroke-width="0.8" stroke-linejoin="round"/><rect x="696.4" y="322.15" width="3.2" height="3.2" fill="#ff8800"/>
<path d="M698,351.25 L664.67,342.32 M673.21,344.61 l2.98,-11.11 M677.66,345.8 l2.98,-11.11 M682.1,346.99 l2.98,-11.11" stroke="#ff8800" stroke-width="1.8" fill="none"/><path d="M664.67,342.32 L669.21,343.54 L669.68,333.31 Z" fill="#ff8800" stroke="#ff8800" stroke-width="0.8" stroke-linejoin="round"/><rect x="696.4" y="349.65" width="3.2" height="3.2" fill="#ff8800"/>
<path d="M698,377.9 L664.93,368.06 M673.41,370.58 l3.28,-11.02 M677.81,371.89 l3.28,-11.02 M682.22,373.2 l3.28,-11.02" stroke="#ff8800" stroke-width="1.8" fill="none"/><path d="M664.93,368.06 L669.44,369.4 L670.18,359.19 Z" fill="#ff8800" stroke="#ff8800" stroke-width="0.8" stroke-linejoin="round"/><rect x="696.4" y="376.3" width="3.2" height="3.2" fill="#ff8800"/>
<path d="M698,404.4 L665.34,393.28 M673.71,396.13 l3.71,-10.89 M678.06,397.61 l3.71,-10.89 M682.42,399.09 l3.71,-10.89" stroke="#ff9a00" stroke-width="1.8" fill="none"/><path d="M665.34,393.28 L669.79,394.79 L670.93,384.62 Z" fill="#ff9a00" stroke="#ff9a00" stroke-width="0.8" stroke-linejoin="round"/><rect x="696.4" y="402.8" width="3.2" height="3.2" fill="#ff9a00"/>
<path d="M698,428.75 L665.62,416.83 M673.92,419.89 l3.97,-10.79 M678.24,421.48 l3.97,-10.79" stroke="#ffb000" stroke-width="1.8" fill="none"/><path d="M665.62,416.83 L670.03,418.46 L671.42,408.31 Z" fill="#ffb000" stroke="#ffb000" stroke-width="0.8" stroke-linejoin="round"/><rect x="696.4" y="427.15" width="3.2" height="3.2" fill="#ffb000"/>
<path d="M698,451.7 L665.76,439.42 M674.02,442.57 l4.09,-10.75 M678.32,444.2 l2.14,-5.61" stroke="#ffee00" stroke-width="1.8" fill="none"/><path d="M665.76,439.42 L670.15,441.09 L671.66,430.96 Z" fill="#ffee00" stroke="#ffee00" stroke-width="0.8" stroke-linejoin="round"/><rect x="696.4" y="450.1" width="3.2" height="3.2" fill="#ffee00"/>
<path d="M698,473.5 L665.7,461.39 M673.97,464.49 l4.04,-10.77" stroke="#f4ff00" stroke-width="1.8" fill="none"/><path d="M665.7,461.39 L670.1,463.04 L671.55,452.9 Z" fill="#f4ff00" stroke="#f4ff00" stroke-width="0.8" stroke-linejoin="round"/><rect x="696.4" y="471.9" width="3.2" height="3.2" fill="#f4ff00"/>
<path d="M698,493.3 L665.5,481.72 M673.83,484.69 l2.01,-5.65" stroke="#eeff00" stroke-width="1.8" fill="none"/><path d="M665.5,481.72 L669.93,483.3 L671.21,473.14 Z" fill="#eeff00" stroke="#eeff00" stroke-width="0.8" stroke-linejoin="round"/><rect x="696.4" y="491.7" width="3.2" height="3.2" fill="#eeff00"/>
<path d="M698,513.1 L666.37,499.33 M674.47,502.85 l2.4,-5.5" stroke="#ccff00" stroke-width="1.8" fill="none"/><path d="M666.37,499.33 L670.68,501.2 L672.65,491.16 Z" fill="#ccff00" stroke="#ccff00" stroke-width="0.8" stroke-linejoin="round"/><rect x="696.4" y="511.5" width="3.2" height="3.2" fill="#ccff00"/>
<path d="M698,531 L667.67,514.55 M675.44,518.77 l2.86,-5.27" stroke="#eeff00" stroke-width="1.8" fill="none"/><path d="M667.67,514.55 L671.8,516.79 L674.64,506.95 Z" fill="#eeff00" stroke="#eeff00" stroke-width="0.8" stroke-linejoin="round"/><rect x="696.4" y="529.4" width="3.2" height="3.2" fill="#eeff00"/>
<path d="M698,548.5 L668.95,529.89 M676.4,534.65 l3.24,-5.05" stroke="#eeff00" stroke-width="1.8" fill="none"/><path d="M668.95,529.89 L672.91,532.42 L676.45,522.81 Z" fill="#eeff00" stroke="#eeff00" stroke-width="0.8" stroke-linejoin="round"/><rect x="696.4" y="546.9" width="3.2" height="3.2" fill="#eeff00"/>
<path d="M698,564.2 L671.49,542.12" stroke="#99ee00" stroke-width="1.8" fill="none"/><path d="M671.49,542.12 L675.1,545.13 L679.81,536.04 Z" fill="#99ee00" stroke="#99ee00" stroke-width="0.8" stroke-linejoin="round"/><rect x="696.4" y="562.6" width="3.2" height="3.2" fill="#99ee00"/>
<path d="M698,579 L674.02,554.19" stroke="#77ee00" stroke-width="1.8" fill="none"/><path d="M674.02,554.19 L677.29,557.57 L682.95,549.04 Z" fill="#77ee00" stroke="#77ee00" stroke-width="0.8" stroke-linejoin="round"/><rect x="696.4" y="577.4" width="3.2" height="3.2" fill="#77ee00"/>
<path d="M698,593 L674.39,567.85 M674.39,567.85 l8.38,-7.87 M677.54,571.2 l8.38,-7.87 M680.68,574.55 l8.38,-7.87 M683.83,577.91 l8.38,-7.87" stroke="#44ee00" stroke-width="1.8" fill="none"/><rect x="696.4" y="591.4" width="3.2" height="3.2" fill="#44ee00"/>
<path d="M698,605.9 L675.46,579.78 M675.46,579.78 l8.71,-7.51 M678.47,583.26 l8.71,-7.51 M681.47,586.74 l8.71,-7.51 M684.48,590.23 l8.71,-7.51" stroke="#22ee22" stroke-width="1.8" fill="none"/><rect x="696.4" y="604.3" width="3.2" height="3.2" fill="#22ee22"/>
<path d="M698,618 L676.57,590.96 M676.57,590.96 l9.01,-7.14 M679.43,594.57 l9.01,-7.14 M682.29,598.17 l9.01,-7.14 M685.14,601.78 l9.01,-7.14" stroke="#00ee55" stroke-width="1.8" fill="none"/><rect x="696.4" y="616.4" width="3.2" height="3.2" fill="#00ee55"/>
<path d="M698,628.3 L677.38,600.64 M677.38,600.64 l9.22,-6.87 M680.13,604.33 l9.22,-6.87 M682.88,608.02 l9.22,-6.87 M685.63,611.7 l4.81,-3.59" stroke="#00ee77" stroke-width="1.8" fill="none"/><rect x="696.4" y="626.7" width="3.2" height="3.2" fill="#00ee77"/>
<path d="M698,638.3 L677.95,610.23 M677.95,610.23 l9.36,-6.68 M680.62,613.97 l9.36,-6.68 M683.29,617.71 l9.36,-6.68 M685.97,621.46 l4.88,-3.49" stroke="#00eeaa" stroke-width="1.8" fill="none"/><rect x="696.4" y="636.7" width="3.2" height="3.2" fill="#00eeaa"/>
<path d="M698,646.5 L678.18,618.26 M678.18,618.26 l9.41,-6.61 M680.82,622.03 l9.41,-6.61 M683.47,625.79 l9.41,-6.61" stroke="#00eecc" stroke-width="1.8" fill="none"/><rect x="696.4" y="644.9" width="3.2" height="3.2" fill="#00eecc"/>
<path d="M698,654.3 L678.52,625.83 M678.52,625.83 l9.49,-6.49 M681.12,629.62 l9.49,-6.49 M683.71,633.42 l9.49,-6.49" stroke="#00eedd" stroke-width="1.8" fill="none"/><rect x="696.4" y="652.7" width="3.2" height="3.2" fill="#00eedd"/>
<path d="M698,660.5 L679.09,631.64 M679.09,631.64 l9.62,-6.3 M681.61,635.49 l9.62,-6.3 M684.13,639.34 l5.02,-3.29" stroke="#00e5ee" stroke-width="1.8" fill="none"/><rect x="696.4" y="658.9" width="3.2" height="3.2" fill="#00e5ee"/>
<path d="M698,666.4 L679.67,637.17 M679.67,637.17 l9.74,-6.11 M682.11,641.07 l9.74,-6.11 M684.56,644.97 l5.08,-3.19" stroke="#00ddff" stroke-width="1.8" fill="none"/><rect x="696.4" y="664.8" width="3.2" height="3.2" fill="#00ddff"/>
<path d="M698,670 L680.25,640.42 M680.25,640.42 l9.86,-5.92 M682.62,644.36 l9.86,-5.92" stroke="#00d8ff" stroke-width="1.8" fill="none"/><rect x="696.4" y="668.4" width="3.2" height="3.2" fill="#00d8ff"/>
<path d="M698,677.5 L669.2,664 L676.2,652.2 L683,646.8 M696,673.5 L676.2,652.2" stroke="#1e90ff" stroke-width="1.6" fill="none"/>
<path d="M698,675.5 L667,669 M671.5,669.94 l1.23,-5.87" stroke="#1e90ff" stroke-width="1.4" fill="none"/><rect x="696.4" y="673.9" width="3.2" height="3.2" fill="#1e90ff"/>
<path d="M698,677.1 L667,670.32 M671.49,671.3 l1.28,-5.86" stroke="#1e90ff" stroke-width="1.4" fill="none"/><rect x="696.4" y="675.5" width="3.2" height="3.2" fill="#1e90ff"/>
<path d="M698,678.71 L667,671.64 M671.48,672.66 l1.33,-5.85" stroke="#1e90ff" stroke-width="1.4" fill="none"/><rect x="696.4" y="677.11" width="3.2" height="3.2" fill="#1e90ff"/>
<path d="M698,680.31 L667,672.96 M671.48,674.02 l1.38,-5.84" stroke="#1e90ff" stroke-width="1.4" fill="none"/><rect x="696.4" y="678.71" width="3.2" height="3.2" fill="#1e90ff"/>
<path d="M698,681.92 L667,674.28 M671.47,675.38 l1.43,-5.83" stroke="#1e90ff" stroke-width="1.4" fill="none"/><rect x="696.4" y="680.32" width="3.2" height="3.2" fill="#1e90ff"/>
<path d="M698,683.52 L667,675.6 M671.46,676.74 l1.48,-5.81" stroke="#1e90ff" stroke-width="1.4" fill="none"/><rect x="696.4" y="681.92" width="3.2" height="3.2" fill="#1e90ff"/>
<path d="M698,685.12 L667,676.92 M671.45,678.1 l1.53,-5.8" stroke="#1e90ff" stroke-width="1.4" fill="none"/><rect x="696.4" y="683.52" width="3.2" height="3.2" fill="#1e90ff"/>
<path d="M698,686.73 L667,678.25 M671.44,679.46 l1.58,-5.79" stroke="#1e90ff" stroke-width="1.4" fill="none"/><rect x="696.4" y="685.13" width="3.2" height="3.2" fill="#1e90ff"/>
<path d="M698,688.33 L667,679.57 M667,679.57 l3.13,-11.07 M671.43,680.82 l1.63,-5.77" stroke="#1e90ff" stroke-width="1.4" fill="none"/><rect x="696.4" y="686.73" width="3.2" height="3.2" fill="#1e90ff"/>
<path d="M698,689.94 L667,680.89 M667,680.89 l3.22,-11.04 M671.42,682.18 l1.68,-5.76" stroke="#1e90ff" stroke-width="1.4" fill="none"/><rect x="696.4" y="688.34" width="3.2" height="3.2" fill="#1e90ff"/>
<path d="M698,691.54 L667,682.21 M667,682.21 l3.32,-11.01 M671.4,683.53 l1.73,-5.75" stroke="#1e90ff" stroke-width="1.4" fill="none"/><rect x="696.4" y="689.94" width="3.2" height="3.2" fill="#1e90ff"/>
<path d="M698,693.15 L667,683.53 M667,683.53 l3.41,-10.98 M671.39,684.89 l1.78,-5.73" stroke="#1e90ff" stroke-width="1.4" fill="none"/><rect x="696.4" y="691.55" width="3.2" height="3.2" fill="#1e90ff"/>
<path d="M698,694.75 L667,684.85 M667,684.85 l3.5,-10.95 M671.38,686.25 l1.83,-5.72" stroke="#1e90ff" stroke-width="1.4" fill="none"/><rect x="696.4" y="693.15" width="3.2" height="3.2" fill="#1e90ff"/>
<path d="M698,696.35 L667,686.17 M667,686.17 l3.59,-10.93 M671.37,687.61 l1.87,-5.7" stroke="#1e90ff" stroke-width="1.4" fill="none"/><rect x="696.4" y="694.75" width="3.2" height="3.2" fill="#1e90ff"/>
<path d="M698,697.96 L667,687.49 M667,687.49 l3.68,-10.9 M671.36,688.96 l1.92,-5.68" stroke="#1e90ff" stroke-width="1.4" fill="none"/><rect x="696.4" y="696.36" width="3.2" height="3.2" fill="#1e90ff"/>
<path d="M698,699.56 L667,688.81 M667,688.81 l3.77,-10.87 M671.35,690.32 l1.97,-5.67" stroke="#1e90ff" stroke-width="1.4" fill="none"/><rect x="696.4" y="697.96" width="3.2" height="3.2" fill="#1e90ff"/>
<path d="M698,701.17 L667,690.13 M667,690.13 l3.86,-10.83 M671.33,691.68 l2.01,-5.65" stroke="#1e90ff" stroke-width="1.4" fill="none"/><rect x="696.4" y="699.57" width="3.2" height="3.2" fill="#1e90ff"/>
<path d="M698,702.77 L667,691.45 M667,691.45 l3.94,-10.8 M671.32,693.03 l2.06,-5.64" stroke="#1e90ff" stroke-width="1.4" fill="none"/><rect x="696.4" y="701.17" width="3.2" height="3.2" fill="#1e90ff"/>
<path d="M698,704.38 L667,692.77 M667,692.77 l4.03,-10.77 M671.31,694.39 l2.1,-5.62" stroke="#1e90ff" stroke-width="1.4" fill="none"/><rect x="696.4" y="702.77" width="3.2" height="3.2" fill="#1e90ff"/>
<path d="M698,705.98 L667,694.1 M667,694.1 l4.12,-10.74 M671.3,695.74 l2.15,-5.6" stroke="#1e90ff" stroke-width="1.4" fill="none"/><rect x="696.4" y="704.38" width="3.2" height="3.2" fill="#1e90ff"/>
<path d="M698,707.58 L667,695.42 M667,695.42 l4.2,-10.71 M671.28,697.1 l2.19,-5.59" stroke="#1e90ff" stroke-width="1.4" fill="none"/><rect x="696.4" y="705.98" width="3.2" height="3.2" fill="#1e90ff"/>
<path d="M698,709.19 L667,696.74 M667,696.74 l4.29,-10.67 M671.27,698.45 l2.24,-5.57" stroke="#1e90ff" stroke-width="1.4" fill="none"/><rect x="696.4" y="707.59" width="3.2" height="3.2" fill="#1e90ff"/>
<path d="M698,710.79 L667,698.06 M667,698.06 l4.37,-10.64 M671.26,699.81 l2.28,-5.55" stroke="#1e90ff" stroke-width="1.4" fill="none"/><rect x="696.4" y="709.19" width="3.2" height="3.2" fill="#1e90ff"/>
<path d="M698,712.4 L667,699.38 M667,699.38 l4.45,-10.6 M671.24,701.16 l2.32,-5.53" stroke="#1e90ff" stroke-width="1.4" fill="none"/><rect x="696.4" y="710.8" width="3.2" height="3.2" fill="#1e90ff"/>
<path d="M698,714 L667,700.7 M667,700.7 l4.53,-10.57 M671.23,702.51 l2.37,-5.51" stroke="#1e90ff" stroke-width="1.4" fill="none"/><rect x="696.4" y="712.4" width="3.2" height="3.2" fill="#1e90ff"/>
<rect x="696.4" y="672" width="3.2" height="42" fill="#1e90ff"/>
</svg>
</body></html>
